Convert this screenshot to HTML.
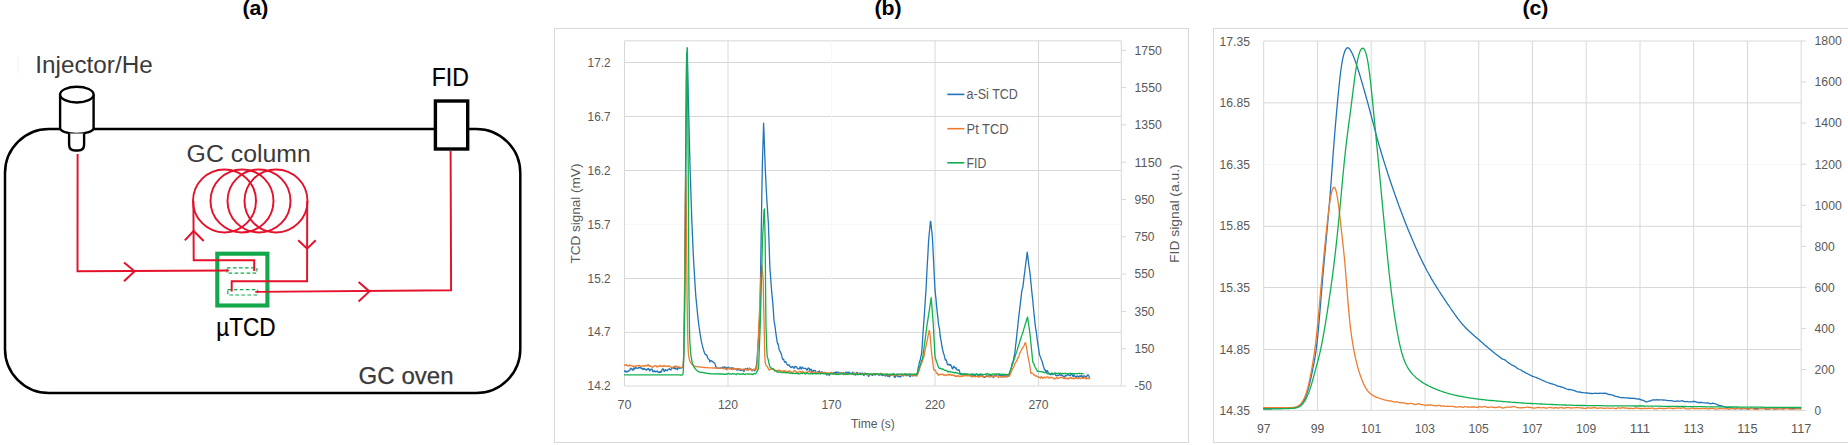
<!DOCTYPE html>
<html lang="en">
<head>
<meta charset="utf-8">
<title>GC setup and chromatograms</title>
<style>
html,body{margin:0;padding:0;background:#fff;overflow:hidden}
svg{display:block;font-family:'Liberation Sans', sans-serif}
</style>
</head>
<body>
<svg width="1848" height="445" viewBox="0 0 1848 445">
<rect x="0" y="0" width="1848" height="445" fill="#fff"/>
<text x="255.40" y="14.65" font-size="19.8" fill="#000" text-anchor="middle" textLength="26.00" lengthAdjust="spacingAndGlyphs" font-weight="bold">(a)</text>
<text x="888.10" y="14.65" font-size="19.8" fill="#000" text-anchor="middle" textLength="27.20" lengthAdjust="spacingAndGlyphs" font-weight="bold">(b)</text>
<text x="1535.40" y="14.65" font-size="19.8" fill="#000" text-anchor="middle" textLength="26.00" lengthAdjust="spacingAndGlyphs" font-weight="bold">(c)</text>
<g id="panel-a">
<rect x="5" y="129" width="515.3" height="264" rx="44" ry="44" fill="none" stroke="#000" stroke-width="2.5"/>
<path d="M60.1 94.6 L60.1 128 A16.75 6 0 0 0 93.6 128 L93.6 94.6 Z" fill="#fff" stroke="none"/>
<path d="M60.1 94.6 L60.1 128 A16.75 6 0 0 0 93.6 128 L93.6 94.6" fill="none" stroke="#000" stroke-width="2.4"/>
<ellipse cx="76.85" cy="94.6" rx="16.75" ry="7.9" fill="#fff" stroke="#000" stroke-width="2.4"/>
<path d="M69.1 133.5 L69.1 144.5 Q69.1 150.5 75.1 150.5 L78.1 150.5 Q84.1 150.5 84.1 144.5 L84.1 133.5" fill="#fff" stroke="#000" stroke-width="2.4"/>
<rect x="435.4" y="101" width="32.3" height="48" fill="#fff" stroke="#000" stroke-width="3.4"/>
<rect x="217.3" y="253.7" width="50.1" height="51.8" fill="none" stroke="#12a84b" stroke-width="4.1"/>
<rect x="227" y="267.8" width="29.9" height="5.4" fill="none" stroke="#12a84b" stroke-width="1.2" stroke-dasharray="3.6 2.4"/>
<rect x="227.8" y="289.6" width="29.9" height="5.4" fill="none" stroke="#12a84b" stroke-width="1.2" stroke-dasharray="3.6 2.4"/>
<path d="M77.6 154 L77.5 271.3 L228.8 270.5" fill="none" stroke="#e5102a" stroke-width="1.95" stroke-linejoin="miter"/>
<path d="M124 262.4 L134.6 271.3 L124 281.3" fill="none" stroke="#e5102a" stroke-width="1.95" stroke-linejoin="miter"/>
<path d="M450.6 151 L451.1 290.2 L255.3 291.9" fill="none" stroke="#e5102a" stroke-width="1.95" stroke-linejoin="miter"/>
<path d="M358.6 282.1 L369.4 291.4 L358.6 301.5" fill="none" stroke="#e5102a" stroke-width="1.95" stroke-linejoin="miter"/>
<circle cx="224.5" cy="200.9" r="31.5" fill="none" stroke="#e5102a" stroke-width="1.95"/>
<circle cx="242.0" cy="200.9" r="31.5" fill="none" stroke="#e5102a" stroke-width="1.95"/>
<circle cx="259.0" cy="200.9" r="31.5" fill="none" stroke="#e5102a" stroke-width="1.95"/>
<circle cx="276.0" cy="200.9" r="31.5" fill="none" stroke="#e5102a" stroke-width="1.95"/>
<path d="M193.4 201 L193.7 260.2 L254.2 260.2 L254.2 271" fill="none" stroke="#e5102a" stroke-width="1.95" stroke-linejoin="miter"/>
<path d="M184.8 240.4 L193.6 231 L203.7 241" fill="none" stroke="#e5102a" stroke-width="1.95" stroke-linejoin="miter"/>
<path d="M307.2 201 L307.1 281.2 L231.7 281.2 L231.7 291.4" fill="none" stroke="#e5102a" stroke-width="1.95" stroke-linejoin="miter"/>
<path d="M298.2 240.2 L307.1 248.7 L315.7 240.2" fill="none" stroke="#e5102a" stroke-width="1.95" stroke-linejoin="miter"/>
<text x="35.30" y="73.20" font-size="24.5" fill="#3a3a3a" textLength="117.40" lengthAdjust="spacingAndGlyphs">Injector/He</text>
<text x="186.60" y="161.80" font-size="23.5" fill="#3a3a3a" textLength="124.20" lengthAdjust="spacingAndGlyphs">GC column</text>
<text x="358.60" y="383.70" font-size="24.5" fill="#3a3a3a" textLength="95.00" lengthAdjust="spacingAndGlyphs" stroke="#3a3a3a" stroke-width="0.25">GC oven</text>
<text x="431.80" y="86.10" font-size="24.9" fill="#000" textLength="37.10" lengthAdjust="spacingAndGlyphs" stroke="#000" stroke-width="0.2">FID</text>
<text x="216.20" y="336.40" font-size="25.2" fill="#000" textLength="59.50" lengthAdjust="spacingAndGlyphs" stroke="#000" stroke-width="0.2">µTCD</text>
<rect x="17.5" y="57" width="1" height="16" fill="#f0f0f0"/>
</g>
<g id="panel-b">
<rect x="554.5" y="28.5" width="634" height="414" fill="#fff" stroke="#d8d8d8" stroke-width="1"/>
<line x1="624.5" y1="386.0" x2="1121.3" y2="386.0" stroke="#d8d8d8" stroke-width="1.0"/>
<line x1="624.5" y1="332.4" x2="1121.3" y2="332.4" stroke="#d8d8d8" stroke-width="1.0"/>
<line x1="624.5" y1="278.5" x2="1121.3" y2="278.5" stroke="#d8d8d8" stroke-width="1.0"/>
<line x1="624.5" y1="224.5" x2="1121.3" y2="224.5" stroke="#f8f8f8" stroke-width="1.0"/>
<line x1="624.5" y1="170.5" x2="1121.3" y2="170.5" stroke="#d8d8d8" stroke-width="1.0"/>
<line x1="624.5" y1="116.5" x2="1121.3" y2="116.5" stroke="#d8d8d8" stroke-width="1.0"/>
<line x1="624.5" y1="62.5" x2="1121.3" y2="62.5" stroke="#d8d8d8" stroke-width="1.0"/>
<line x1="624.5" y1="40.8" x2="1121.3" y2="40.8" stroke="#d8d8d8" stroke-width="1.0"/>
<line x1="624.5" y1="40.8" x2="624.5" y2="386.0" stroke="#d8d8d8" stroke-width="1.0"/>
<line x1="728.0" y1="40.8" x2="728.0" y2="386.0" stroke="#d8d8d8" stroke-width="1.0"/>
<line x1="831.5" y1="40.8" x2="831.5" y2="386.0" stroke="#f8f8f8" stroke-width="1.0"/>
<line x1="935.0" y1="40.8" x2="935.0" y2="386.0" stroke="#d8d8d8" stroke-width="1.0"/>
<line x1="1038.5" y1="40.8" x2="1038.5" y2="386.0" stroke="#d8d8d8" stroke-width="1.0"/>
<line x1="1121.3" y1="40.8" x2="1121.3" y2="386.0" stroke="#d8d8d8" stroke-width="1.0"/>
<line x1="1121.3" y1="386.0" x2="1126.3" y2="386.0" stroke="#d8d8d8" stroke-width="1.0"/>
<text x="1134.50" y="390.30" font-size="12" fill="#595959" textLength="17.30" lengthAdjust="spacingAndGlyphs">-50</text>
<line x1="1121.3" y1="348.7" x2="1126.3" y2="348.7" stroke="#d8d8d8" stroke-width="1.0"/>
<text x="1134.50" y="353.00" font-size="12" fill="#595959" textLength="20.00" lengthAdjust="spacingAndGlyphs">150</text>
<line x1="1121.3" y1="311.4" x2="1126.3" y2="311.4" stroke="#d8d8d8" stroke-width="1.0"/>
<text x="1134.50" y="315.70" font-size="12" fill="#595959" textLength="20.00" lengthAdjust="spacingAndGlyphs">350</text>
<line x1="1121.3" y1="274.1" x2="1126.3" y2="274.1" stroke="#d8d8d8" stroke-width="1.0"/>
<text x="1134.50" y="278.40" font-size="12" fill="#595959" textLength="20.00" lengthAdjust="spacingAndGlyphs">550</text>
<line x1="1121.3" y1="236.8" x2="1126.3" y2="236.8" stroke="#d8d8d8" stroke-width="1.0"/>
<text x="1134.50" y="241.10" font-size="12" fill="#595959" textLength="20.00" lengthAdjust="spacingAndGlyphs">750</text>
<line x1="1121.3" y1="199.5" x2="1126.3" y2="199.5" stroke="#d8d8d8" stroke-width="1.0"/>
<text x="1134.50" y="203.80" font-size="12" fill="#595959" textLength="20.00" lengthAdjust="spacingAndGlyphs">950</text>
<line x1="1121.3" y1="162.2" x2="1126.3" y2="162.2" stroke="#d8d8d8" stroke-width="1.0"/>
<text x="1134.50" y="166.50" font-size="12" fill="#595959" textLength="27.30" lengthAdjust="spacingAndGlyphs">1150</text>
<line x1="1121.3" y1="124.9" x2="1126.3" y2="124.9" stroke="#d8d8d8" stroke-width="1.0"/>
<text x="1134.50" y="129.20" font-size="12" fill="#595959" textLength="27.30" lengthAdjust="spacingAndGlyphs">1350</text>
<line x1="1121.3" y1="87.6" x2="1126.3" y2="87.6" stroke="#d8d8d8" stroke-width="1.0"/>
<text x="1134.50" y="91.90" font-size="12" fill="#595959" textLength="27.30" lengthAdjust="spacingAndGlyphs">1550</text>
<line x1="1121.3" y1="50.3" x2="1126.3" y2="50.3" stroke="#d8d8d8" stroke-width="1.0"/>
<text x="1134.50" y="54.60" font-size="12" fill="#595959" textLength="27.30" lengthAdjust="spacingAndGlyphs">1750</text>
<text x="587.60" y="390.30" font-size="12" fill="#595959" textLength="23.00" lengthAdjust="spacingAndGlyphs">14.2</text>
<text x="587.60" y="336.40" font-size="12" fill="#595959" textLength="23.00" lengthAdjust="spacingAndGlyphs">14.7</text>
<text x="587.60" y="282.50" font-size="12" fill="#595959" textLength="23.00" lengthAdjust="spacingAndGlyphs">15.2</text>
<text x="587.60" y="228.60" font-size="12" fill="#595959" textLength="23.00" lengthAdjust="spacingAndGlyphs">15.7</text>
<text x="587.60" y="174.70" font-size="12" fill="#595959" textLength="23.00" lengthAdjust="spacingAndGlyphs">16.2</text>
<text x="587.60" y="120.80" font-size="12" fill="#595959" textLength="23.00" lengthAdjust="spacingAndGlyphs">16.7</text>
<text x="587.60" y="66.90" font-size="12" fill="#595959" textLength="23.00" lengthAdjust="spacingAndGlyphs">17.2</text>
<text x="624.50" y="408.80" font-size="12" fill="#595959" text-anchor="middle" textLength="14.00" lengthAdjust="spacingAndGlyphs">70</text>
<text x="728.00" y="408.80" font-size="12" fill="#595959" text-anchor="middle" textLength="20.20" lengthAdjust="spacingAndGlyphs">120</text>
<text x="831.50" y="408.80" font-size="12" fill="#595959" text-anchor="middle" textLength="20.20" lengthAdjust="spacingAndGlyphs">170</text>
<text x="935.00" y="408.80" font-size="12" fill="#595959" text-anchor="middle" textLength="20.20" lengthAdjust="spacingAndGlyphs">220</text>
<text x="1038.50" y="408.80" font-size="12" fill="#595959" text-anchor="middle" textLength="20.20" lengthAdjust="spacingAndGlyphs">270</text>
<text x="873.00" y="428.20" font-size="12" fill="#595959" text-anchor="middle" textLength="43.80" lengthAdjust="spacingAndGlyphs">Time (s)</text>
<text transform="translate(579.6 213.6) rotate(-90)" font-size="13" fill="#595959" text-anchor="middle" textLength="100" lengthAdjust="spacingAndGlyphs">TCD signal (mV)</text>
<text transform="translate(1179.4 213.6) rotate(-90)" font-size="13" fill="#595959" text-anchor="middle" textLength="98.7" lengthAdjust="spacingAndGlyphs">FID signal (a.u.)</text>
<line x1="947.3" y1="94.4" x2="964.4" y2="94.4" stroke="#2174ba" stroke-width="1.6"/>
<text x="966.60" y="99.30" font-size="14" fill="#595959" textLength="51.30" lengthAdjust="spacingAndGlyphs">a-Si TCD</text>
<line x1="947.3" y1="128.7" x2="964.4" y2="128.7" stroke="#ed7d31" stroke-width="1.6"/>
<text x="966.60" y="133.60" font-size="14" fill="#595959" textLength="41.90" lengthAdjust="spacingAndGlyphs">Pt TCD</text>
<line x1="947.3" y1="162.8" x2="964.4" y2="162.8" stroke="#10b050" stroke-width="1.6"/>
<text x="966.60" y="167.70" font-size="14" fill="#595959" textLength="19.80" lengthAdjust="spacingAndGlyphs">FID</text>
<polyline points="624.5,371.2 624.9,370.7 625.3,371.1 625.7,372.0 626.1,372.2 626.5,371.7 626.9,371.2 627.3,371.6 627.7,371.9 628.1,371.0 628.5,370.8 628.9,371.0 629.3,370.7 629.7,370.4 630.1,369.0 630.5,368.9 630.9,368.1 631.3,368.9 631.7,368.8 632.1,369.8 632.5,369.9 632.9,370.3 633.3,368.6 633.7,368.1 634.1,368.0 634.5,369.2 634.9,368.5 635.3,368.1 635.7,367.4 636.1,367.6 636.5,368.3 636.9,368.2 637.3,368.4 637.7,368.2 638.1,368.1 638.5,367.9 638.9,367.3 639.3,367.7 639.7,367.2 640.1,367.3 640.5,368.0 640.9,367.9 641.3,368.4 641.7,367.9 642.1,368.4 642.5,369.1 642.9,369.5 643.3,369.3 643.7,368.4 644.1,368.4 644.5,369.0 644.9,369.4 645.3,369.2 645.7,369.7 646.1,370.2 646.5,369.9 646.9,369.8 647.3,368.9 647.7,369.4 648.1,368.7 648.5,368.8 648.9,368.7 649.3,369.9 649.7,370.9 650.1,370.4 650.5,369.6 650.9,369.5 651.3,369.2 651.7,369.5 652.1,369.2 652.5,371.0 652.9,371.7 653.3,371.7 653.7,371.0 654.1,370.6 654.5,371.6 654.9,371.7 655.3,371.8 655.7,371.3 656.1,371.6 656.5,371.7 656.9,371.0 657.3,371.2 657.7,371.2 658.1,372.3 658.5,372.5 658.9,372.7 659.3,372.3 659.7,371.7 660.1,372.2 660.5,371.8 660.9,372.2 661.3,370.9 661.7,371.0 662.1,369.7 662.5,369.2 662.9,368.8 663.3,369.1 663.7,370.2 664.1,371.4 664.5,371.4 664.9,370.9 665.3,369.7 665.7,370.3 666.1,370.5 666.5,370.2 666.9,370.2 667.3,370.5 667.7,370.0 668.1,369.5 668.5,369.2 668.9,369.1 669.3,369.2 669.7,368.7 670.1,369.7 670.5,369.6 670.9,370.0 671.3,369.1 671.7,368.9 672.1,367.7 672.5,367.4 672.9,367.6 673.3,367.4 673.7,368.4 674.1,367.2 674.5,368.7 674.9,367.7 675.3,369.0 675.7,368.6 676.1,368.2 676.5,368.3 676.9,369.0 677.3,369.7 677.7,368.9 678.1,368.0 678.5,367.5 678.9,368.2 679.3,368.0 679.7,368.4 680.1,367.4 680.4,368.0 680.5,368.0 680.7,368.0 680.9,368.0 681.0,367.9 681.2,367.9 681.3,367.9 681.5,367.9 681.6,367.8 681.8,367.8 681.9,367.8 682.1,367.7 682.2,367.7 682.4,367.6 682.5,367.5 682.7,367.4 682.9,367.3 683.0,366.8 683.2,365.7 683.3,364.0 683.5,361.4 683.6,357.6 683.8,352.6 683.9,346.0 684.1,338.0 684.2,329.4 684.4,319.4 684.5,305.0 684.7,285.4 684.9,264.0 685.0,243.6 685.2,224.6 685.3,205.7 685.5,185.6 685.6,162.6 685.8,138.8 685.9,117.4 686.1,98.0 686.2,80.5 686.4,67.0 686.6,58.4 686.7,53.8 686.9,52.3 687.0,53.5 687.2,56.4 687.3,60.4 687.5,65.2 687.6,70.4 687.8,76.0 687.9,81.8 688.1,87.9 688.2,94.1 688.4,100.4 688.6,106.8 688.7,113.4 688.9,120.1 689.0,126.8 689.2,133.3 689.3,139.5 689.5,145.4 689.6,151.0 689.8,156.6 689.9,162.0 690.1,167.3 690.2,172.6 690.4,177.7 690.6,182.7 690.7,187.6 690.9,192.4 691.0,197.0 691.2,201.6 691.3,206.1 691.5,210.4 691.6,214.7 691.8,218.9 691.9,223.0 692.1,227.0 692.3,230.9 692.4,234.7 692.6,238.3 692.7,241.9 692.9,245.3 693.0,248.6 693.2,251.7 693.3,254.8 693.5,257.7 693.6,260.6 693.8,263.4 693.9,266.1 694.1,268.8 694.3,271.4 694.4,274.0 694.6,276.6 694.7,279.2 694.9,281.8 695.0,284.3 695.2,286.7 695.3,289.1 695.5,291.3 695.6,293.5 695.8,295.5 695.9,297.4 696.1,299.1 696.3,300.8 696.4,302.4 696.6,303.9 696.7,305.5 696.9,307.0 697.0,308.5 697.2,310.0 697.3,311.6 697.5,313.1 697.6,314.6 697.8,316.1 698.0,317.5 698.1,318.9 698.3,320.3 698.4,321.6 698.6,322.9 698.7,324.1 698.9,325.3 699.0,326.4 699.2,327.6 699.3,328.7 699.5,329.8 699.6,330.8 699.8,331.9 700.0,332.9 700.1,333.9 700.3,334.9 700.4,335.8 700.6,336.7 700.7,337.6 700.9,338.5 701.0,339.3 701.2,340.1 701.3,340.9 701.5,341.7 701.6,342.4 701.8,343.1 702.0,343.8 702.1,344.4 702.3,345.1 702.4,345.7 702.6,346.3 702.7,346.9 702.9,347.5 703.0,348.1 703.2,348.7 703.3,349.3 703.5,349.8 703.7,350.3 703.8,350.9 704.0,351.4 704.1,351.8 704.3,352.2 704.4,352.6 704.6,353.0 704.7,353.4 704.9,353.8 705.0,354.1 705.2,354.4 705.3,354.5 705.5,354.6 705.7,354.7 705.8,354.7 706.0,354.7 706.1,354.7 706.3,354.7 706.4,354.8 706.6,354.9 706.7,355.1 706.9,355.5 707.0,355.9 707.2,356.3 707.3,356.8 707.5,357.3 707.7,357.7 707.8,358.1 708.0,358.4 708.1,358.6 708.3,358.8 708.4,358.9 708.6,359.0 708.7,359.1 708.9,359.2 709.0,359.4 709.2,359.6 709.4,359.9 709.5,360.5 709.7,361.3 709.8,361.9 710.0,361.9 710.1,361.3 710.3,360.7 710.4,360.5 710.6,360.5 710.7,360.5 710.9,360.6 711.0,360.6 711.2,360.7 711.4,360.8 711.5,360.9 711.7,361.0 711.8,361.1 712.0,361.2 712.1,361.3 712.3,361.4 712.4,361.5 712.6,361.6 712.7,361.8 712.9,361.9 713.0,362.0 713.2,362.1 713.4,362.2 713.5,362.3 713.7,362.5 713.8,362.6 714.0,362.7 714.1,362.8 714.3,362.9 714.4,363.0 714.6,363.2 714.7,363.4 714.9,363.6 715.1,363.9 715.2,364.4 715.4,364.9 715.5,365.5 715.7,366.0 715.8,366.4 716.0,366.8 716.1,367.1 716.3,367.4 716.4,367.7 716.6,367.9 716.7,368.1 716.9,368.1 717.1,368.2 717.2,368.2 717.4,368.2 717.5,368.2 717.7,368.2 717.8,368.2 718.0,368.2 718.1,368.2 718.3,368.2 718.4,368.2 718.6,368.1 718.7,368.1 718.9,368.1 719.1,368.1 719.2,368.1 719.4,368.1 719.5,368.1 719.7,368.1 719.8,368.1 720.0,368.1 720.1,368.0 720.3,368.0 720.4,368.0 720.6,368.0 720.8,368.0 720.9,367.9 721.1,367.9 721.2,367.9 721.4,367.8 721.5,367.8 721.7,367.8 722.0,367.8 722.4,367.3 722.8,367.0 723.2,367.4 723.6,367.4 724.0,367.6 724.4,367.0 724.8,366.8 725.2,367.8 725.6,368.1 726.0,368.1 726.4,367.5 726.8,368.5 727.2,368.4 727.6,368.1 728.0,367.2 728.4,367.1 728.8,367.6 729.2,367.9 729.6,368.8 730.0,368.2 730.4,368.4 730.8,368.2 731.2,368.5 731.6,367.8 732.0,367.6 732.4,368.3 732.8,368.6 733.2,369.3 733.6,368.7 734.0,368.8 734.4,368.5 734.8,368.8 735.2,368.9 735.6,369.1 736.0,368.9 736.4,369.6 736.8,370.0 737.2,370.2 737.6,369.4 738.0,368.5 738.4,368.8 738.8,369.5 739.2,370.1 739.6,369.9 740.0,369.9 740.4,370.4 740.8,370.6 741.2,370.0 741.6,370.4 742.0,369.4 742.4,370.0 742.8,369.6 743.2,370.6 743.6,371.1 744.0,371.6 744.4,370.7 744.8,369.0 745.2,368.7 745.6,368.8 746.0,369.6 746.4,369.7 746.8,369.4 747.2,368.5 747.6,368.2 748.0,369.0 748.4,369.9 748.8,369.8 749.2,369.5 749.6,368.9 750.0,368.8 750.4,368.9 750.8,368.9 751.2,369.3 751.6,369.8 752.0,370.8 752.4,370.2 752.8,370.0 753.2,369.4 753.6,369.5 754.0,370.0 754.4,370.2 754.8,370.9 755.2,370.1 755.6,369.6 756.0,367.0 756.4,365.5 756.8,362.7 757.2,357.8 757.6,351.2 758.0,345.4 758.4,340.2 758.8,334.1 759.2,326.3 759.6,317.9 760.0,310.4 760.4,285.8 760.8,260.3 761.2,234.8 761.6,209.5 762.0,184.6 762.4,162.8 762.8,150.2 763.2,137.5 763.6,123.1 764.0,132.9 764.4,144.2 764.8,155.6 765.2,166.9 765.6,175.4 766.0,183.7 766.4,192.0 766.8,198.8 767.2,205.5 767.6,211.1 768.0,217.7 768.4,223.8 768.8,235.6 769.2,247.1 769.6,259.6 770.0,269.5 770.4,274.3 770.8,279.9 771.2,285.4 771.6,290.5 772.0,294.9 772.4,299.2 772.8,302.9 773.2,308.2 773.6,314.2 774.0,320.8 774.4,322.7 774.8,325.2 775.2,327.7 775.6,331.3 776.0,334.2 776.4,336.9 776.8,339.6 777.2,341.8 777.6,343.9 778.0,343.5 778.4,345.6 778.8,347.4 779.2,349.8 779.6,350.5 780.0,351.3 780.4,352.1 780.8,352.9 781.2,353.9 781.6,355.0 782.0,356.9 782.4,358.4 782.8,359.5 783.2,359.1 783.6,359.1 784.0,360.4 784.4,361.4 784.8,362.3 785.2,361.9 785.6,361.7 786.0,362.2 786.4,363.3 786.8,364.1 787.2,364.6 787.6,364.6 788.0,365.4 788.4,365.1 788.8,365.2 789.2,364.9 789.6,366.2 790.0,366.1 790.4,366.9 790.8,367.3 791.2,367.6 791.6,367.2 792.0,366.7 792.4,366.9 792.8,366.7 793.2,366.9 793.6,367.9 794.0,368.3 794.4,368.0 794.8,366.6 795.2,366.9 795.6,366.5 796.0,366.5 796.4,367.0 796.8,367.2 797.2,368.2 797.6,368.4 798.0,369.0 798.4,368.8 798.8,369.0 799.2,368.8 799.6,368.4 800.0,366.9 800.4,367.0 800.8,368.0 801.2,369.1 801.6,368.7 802.0,367.7 802.4,367.1 802.8,367.7 803.2,368.0 803.6,368.4 804.0,368.4 804.4,368.4 804.8,368.4 805.2,368.4 805.6,368.5 806.0,368.8 806.4,369.7 806.8,370.2 807.2,370.1 807.6,368.6 808.0,368.7 808.4,367.9 808.8,368.2 809.2,368.5 809.6,369.9 810.0,370.6 810.4,369.6 810.8,369.2 811.2,369.1 811.6,370.4 812.0,371.7 812.4,372.3 812.8,371.8 813.2,370.3 813.6,370.3 814.0,370.7 814.4,370.7 814.8,370.9 815.2,370.5 815.6,371.7 816.0,372.2 816.4,373.3 816.8,372.6 817.2,372.4 817.6,372.0 818.0,372.1 818.4,371.7 818.8,371.3 819.2,370.9 819.6,371.5 820.0,372.1 820.4,372.9 820.8,373.1 821.2,372.4 821.6,372.0 822.0,371.7 822.4,372.8 822.8,373.1 823.2,373.5 823.6,373.5 824.0,373.2 824.4,372.4 824.8,372.7 825.2,373.6 825.6,373.2 826.0,373.5 826.4,373.7 826.8,375.2 827.2,374.5 827.6,374.2 828.0,373.0 828.4,374.4 828.8,374.4 829.2,375.6 829.6,374.1 830.0,374.2 830.4,372.7 830.8,372.8 831.2,373.1 831.6,373.3 832.0,373.9 832.4,373.6 832.8,373.6 833.2,372.9 833.6,372.5 834.0,372.9 834.4,372.9 834.8,372.7 835.2,372.5 835.6,372.2 836.0,372.0 836.4,372.1 836.8,372.9 837.2,372.8 837.6,372.8 838.0,372.0 838.4,372.3 838.8,372.7 839.2,372.7 839.6,373.9 840.0,373.2 840.4,373.6 840.8,372.9 841.2,372.9 841.6,373.0 842.0,373.1 842.4,373.7 842.8,373.5 843.2,373.1 843.6,372.8 844.0,372.8 844.4,373.8 844.8,373.4 845.2,373.4 845.6,372.2 846.0,373.0 846.4,372.5 846.8,372.5 847.2,372.2 847.6,373.2 848.0,373.4 848.4,372.9 848.8,372.1 849.2,372.3 849.6,373.0 850.0,373.0 850.4,373.2 850.8,373.3 851.2,373.4 851.6,374.0 852.0,373.3 852.4,373.1 852.8,372.1 853.2,373.4 853.6,373.8 854.0,374.8 854.4,374.0 854.8,374.2 855.2,374.1 855.6,375.1 856.0,374.5 856.4,373.8 856.8,372.5 857.2,372.4 857.6,373.5 858.0,374.3 858.4,374.5 858.8,373.6 859.2,373.1 859.6,374.2 860.0,373.5 860.4,374.0 860.8,372.9 861.2,374.7 861.6,374.0 862.0,374.3 862.4,373.2 862.8,373.3 863.2,374.1 863.6,375.2 864.0,375.5 864.4,374.4 864.8,373.2 865.2,373.2 865.6,373.6 866.0,374.5 866.4,374.7 866.8,374.2 867.2,374.2 867.6,374.3 868.0,375.4 868.4,376.3 868.8,376.3 869.2,375.4 869.6,374.5 870.0,374.3 870.4,374.4 870.8,374.4 871.2,374.2 871.6,374.8 872.0,374.8 872.4,375.4 872.8,375.1 873.2,374.8 873.6,374.3 874.0,374.2 874.4,374.3 874.8,374.9 875.2,375.0 875.6,374.7 876.0,374.6 876.4,374.0 876.8,374.4 877.2,374.2 877.6,373.9 878.0,374.2 878.4,374.4 878.8,375.3 879.2,375.1 879.6,374.9 880.0,374.5 880.4,374.6 880.8,374.5 881.2,375.0 881.6,374.6 882.0,375.0 882.4,375.0 882.8,375.5 883.2,375.2 883.6,375.4 884.0,374.8 884.4,375.2 884.8,375.0 885.2,376.0 885.6,375.9 886.0,375.5 886.4,375.3 886.8,375.4 887.2,375.9 887.6,376.2 888.0,375.2 888.4,375.3 888.8,375.7 889.2,376.9 889.6,376.8 890.0,375.5 890.4,375.5 890.8,375.3 891.2,374.9 891.6,374.7 892.0,374.0 892.4,374.6 892.8,374.2 893.2,375.5 893.6,375.9 894.0,376.3 894.4,376.6 894.8,377.5 895.2,377.3 895.6,376.4 896.0,375.1 896.4,374.9 896.8,375.2 897.2,376.0 897.6,376.4 898.0,376.6 898.4,376.1 898.8,376.0 899.2,375.9 899.6,376.6 900.0,377.1 900.4,376.9 900.8,376.5 901.2,376.1 901.6,375.4 902.0,374.7 902.4,374.8 902.8,375.2 903.2,376.1 903.6,375.0 904.0,374.8 904.4,374.3 904.8,374.7 905.2,373.8 905.6,373.8 906.0,374.6 906.4,375.8 906.8,375.6 907.2,375.2 907.6,375.3 908.0,374.3 908.4,374.2 908.8,374.0 909.2,375.6 909.6,376.4 910.0,376.6 910.4,376.4 910.8,375.7 911.2,375.5 911.6,375.1 912.0,374.9 912.4,374.9 912.8,376.0 913.2,375.9 913.6,375.4 914.0,374.6 914.4,375.2 914.8,375.2 915.2,375.8 915.6,374.7 916.0,374.5 916.4,373.7 916.8,374.5 917.2,374.1 917.6,371.7 918.0,369.0 918.4,366.9 918.8,365.4 919.2,363.3 919.6,361.7 920.0,360.4 920.4,359.5 920.8,356.9 921.2,355.3 921.6,353.1 922.0,348.4 922.4,342.0 922.8,336.2 923.2,330.3 923.6,324.9 924.0,320.1 924.4,314.1 924.8,308.0 925.2,301.7 925.6,295.4 926.0,290.3 926.4,282.0 926.8,273.9 927.2,266.1 927.6,259.4 928.0,252.5 928.4,244.0 928.8,238.2 929.2,234.1 929.6,230.2 930.0,225.8 930.4,221.3 930.8,221.7 931.2,226.1 931.6,229.5 932.0,232.9 932.4,237.8 932.8,245.3 933.2,253.9 933.6,261.7 934.0,270.3 934.4,278.2 934.8,286.4 935.2,291.6 935.6,295.6 936.0,298.9 936.4,303.8 936.8,307.9 937.2,312.0 937.6,315.3 938.0,319.1 938.4,323.8 938.8,325.6 939.2,327.6 939.6,329.5 940.0,333.8 940.4,337.1 940.8,339.7 941.2,341.2 941.6,344.1 942.0,346.5 942.4,348.4 942.8,350.4 943.2,352.2 943.6,353.9 944.0,354.3 944.4,356.2 944.8,357.8 945.2,359.5 945.6,360.2 946.0,359.6 946.4,360.9 946.8,361.7 947.2,364.0 947.6,364.7 948.0,364.9 948.4,364.2 948.8,364.3 949.2,364.3 949.6,365.2 950.0,365.0 950.4,365.4 950.8,364.7 951.2,365.8 951.6,366.3 952.0,368.1 952.4,368.7 952.8,368.8 953.2,367.7 953.6,366.6 954.0,366.3 954.4,367.1 954.8,367.8 955.2,367.7 955.6,368.3 956.0,367.8 956.4,369.1 956.8,369.2 957.2,370.0 957.6,370.0 958.0,370.1 958.4,370.2 958.8,369.7 959.2,370.2 959.6,371.7 960.0,373.7 960.4,374.6 960.8,374.4 961.2,373.5 961.6,373.8 962.0,373.8 962.4,374.4 962.8,373.9 963.2,374.2 963.6,374.1 964.0,374.2 964.4,373.7 964.8,373.8 965.2,374.9 965.6,375.4 966.0,375.5 966.4,374.7 966.8,375.1 967.2,374.8 967.6,374.5 968.0,374.6 968.4,375.3 968.8,375.5 969.2,375.8 969.6,375.4 970.0,375.4 970.4,374.5 970.8,375.6 971.2,374.7 971.6,374.6 972.0,373.7 972.4,375.0 972.8,375.6 973.2,376.5 973.6,375.6 974.0,375.7 974.4,374.9 974.8,375.4 975.2,375.3 975.6,375.1 976.0,374.5 976.4,374.1 976.8,373.9 977.2,374.6 977.6,374.9 978.0,375.8 978.4,376.9 978.8,376.7 979.2,375.8 979.6,374.8 980.0,374.5 980.4,374.7 980.8,375.3 981.2,375.5 981.6,375.1 982.0,375.3 982.4,375.6 982.8,376.7 983.2,376.5 983.6,376.9 984.0,376.8 984.4,377.3 984.8,377.3 985.2,377.4 985.6,377.0 986.0,376.2 986.4,375.9 986.8,375.5 987.2,376.3 987.6,375.7 988.0,376.6 988.4,376.5 988.8,376.6 989.2,375.0 989.6,374.8 990.0,375.3 990.4,375.8 990.8,375.9 991.2,375.6 991.6,376.2 992.0,375.8 992.4,376.1 992.8,376.2 993.2,377.7 993.6,377.3 994.0,376.6 994.4,375.0 994.8,375.8 995.2,375.5 995.6,375.6 996.0,375.2 996.4,375.3 996.8,375.1 997.2,374.8 997.6,374.3 998.0,374.1 998.4,374.1 998.8,375.1 999.2,375.6 999.6,375.0 1000.0,374.7 1000.4,375.1 1000.8,376.2 1001.2,376.4 1001.6,375.6 1002.0,375.6 1002.4,375.3 1002.8,375.2 1003.2,374.5 1003.6,375.4 1004.0,376.0 1004.4,376.9 1004.8,376.0 1005.2,376.3 1005.6,375.5 1006.0,375.6 1006.4,376.3 1006.8,376.9 1007.2,376.8 1007.6,375.6 1008.0,375.3 1008.4,376.1 1008.8,375.9 1009.2,374.9 1009.6,372.6 1010.0,371.3 1010.4,370.5 1010.8,369.6 1011.2,368.2 1011.6,366.9 1012.0,364.2 1012.4,362.8 1012.8,361.8 1013.2,361.1 1013.6,359.2 1014.0,356.7 1014.4,355.5 1014.8,353.4 1015.2,349.7 1015.6,345.5 1016.0,342.6 1016.4,338.9 1016.8,335.2 1017.2,331.2 1017.6,327.8 1018.0,324.0 1018.4,320.0 1018.8,316.4 1019.2,313.3 1019.6,309.9 1020.0,306.5 1020.4,303.1 1020.8,299.7 1021.2,296.6 1021.6,292.4 1022.0,290.1 1022.4,288.6 1022.8,287.5 1023.2,284.4 1023.6,281.1 1024.0,277.4 1024.4,274.4 1024.8,271.6 1025.2,267.7 1025.6,265.0 1026.0,261.1 1026.4,259.2 1026.8,255.6 1027.2,252.1 1027.6,254.8 1028.0,258.2 1028.4,261.7 1028.8,265.0 1029.2,267.6 1029.6,269.8 1030.0,273.1 1030.4,276.9 1030.8,281.6 1031.2,285.3 1031.6,289.6 1032.0,293.4 1032.4,297.1 1032.8,300.6 1033.2,305.5 1033.6,309.2 1034.0,313.9 1034.4,317.2 1034.8,321.4 1035.2,324.8 1035.6,327.8 1036.0,330.5 1036.4,332.5 1036.8,335.7 1037.2,339.6 1037.6,342.3 1038.0,344.8 1038.4,347.3 1038.8,349.9 1039.2,352.7 1039.6,355.1 1040.0,356.1 1040.4,356.8 1040.8,357.9 1041.2,359.2 1041.6,360.2 1042.0,361.0 1042.4,362.6 1042.8,364.0 1043.2,365.6 1043.6,366.7 1044.0,367.9 1044.4,369.6 1044.8,369.7 1045.2,370.8 1045.6,370.0 1046.0,371.5 1046.4,372.3 1046.8,371.8 1047.2,370.8 1047.6,370.7 1048.0,372.3 1048.4,373.4 1048.8,373.4 1049.2,373.5 1049.6,373.8 1050.0,374.1 1050.4,374.7 1050.8,373.7 1051.2,374.1 1051.6,373.1 1052.0,374.7 1052.4,374.3 1052.8,374.4 1053.2,374.2 1053.6,373.9 1054.0,373.9 1054.4,373.1 1054.8,373.5 1055.2,374.2 1055.6,375.4 1056.0,375.4 1056.4,375.7 1056.8,375.3 1057.2,375.3 1057.6,375.1 1058.0,375.6 1058.4,375.6 1058.8,375.2 1059.2,374.7 1059.6,374.9 1060.0,374.7 1060.4,375.2 1060.8,375.1 1061.2,375.7 1061.6,374.9 1062.0,375.3 1062.4,375.3 1062.8,375.5 1063.2,376.3 1063.6,376.3 1064.0,377.4 1064.4,376.9 1064.8,376.5 1065.2,375.5 1065.6,375.3 1066.0,375.7 1066.4,375.9 1066.8,375.6 1067.2,374.8 1067.6,374.7 1068.0,373.9 1068.4,374.9 1068.8,374.7 1069.2,375.4 1069.6,375.2 1070.0,375.7 1070.4,375.4 1070.8,374.7 1071.2,374.1 1071.6,373.8 1072.0,374.2 1072.4,375.4 1072.8,375.9 1073.2,376.7 1073.6,375.3 1074.0,376.0 1074.4,375.5 1074.8,376.2 1075.2,376.3 1075.6,377.3 1076.0,377.4 1076.4,377.2 1076.8,376.0 1077.2,376.2 1077.6,376.0 1078.0,376.9 1078.4,376.6 1078.8,377.5 1079.2,376.2 1079.6,376.1 1080.0,375.8 1080.4,376.5 1080.8,376.3 1081.2,375.8 1081.6,375.3 1082.0,375.8 1082.4,377.1 1082.8,378.2 1083.2,377.7 1083.6,376.2 1084.0,375.5 1084.4,376.5 1084.8,376.5 1085.2,376.4 1085.6,376.3 1086.0,377.1 1086.4,377.3 1086.8,376.4 1087.2,375.3 1087.6,375.2 1088.0,374.7 1088.4,375.7 1088.8,375.8 1089.2,377.1 1089.6,377.6" fill="none" stroke="#2174ba" stroke-width="1.3" stroke-linejoin="round" stroke-linecap="round"/>
<polyline points="624.5,365.2 624.9,364.9 625.3,365.6 625.7,365.0 626.1,365.1 626.5,364.6 626.9,365.3 627.3,365.6 627.7,365.8 628.1,365.8 628.5,366.1 628.9,365.4 629.3,365.5 629.7,364.9 630.1,365.6 630.5,365.7 630.9,365.6 631.3,365.4 631.7,365.6 632.1,365.9 632.5,365.9 632.9,366.3 633.3,366.9 633.7,366.6 634.1,366.1 634.5,366.2 634.9,366.9 635.3,366.8 635.7,366.1 636.1,365.7 636.5,365.6 636.9,365.5 637.3,365.8 637.7,365.8 638.1,365.8 638.5,365.3 638.9,365.4 639.3,365.3 639.7,365.6 640.1,365.9 640.5,366.2 640.9,366.4 641.3,366.3 641.7,366.2 642.1,366.0 642.5,365.8 642.9,366.0 643.3,365.7 643.7,366.2 644.1,366.0 644.5,366.1 644.9,365.6 645.3,365.4 645.7,365.7 646.1,365.6 646.5,366.1 646.9,365.9 647.3,365.4 647.7,364.9 648.1,364.5 648.5,365.2 648.9,365.7 649.3,366.5 649.7,366.1 650.1,365.6 650.5,365.9 650.9,366.4 651.3,366.6 651.7,366.5 652.1,367.1 652.5,367.5 652.9,367.2 653.3,366.6 653.7,366.4 654.1,366.2 654.5,365.8 654.9,365.7 655.3,365.6 655.7,365.9 656.1,365.9 656.5,366.9 656.9,366.7 657.3,366.6 657.7,365.9 658.1,366.3 658.5,366.7 658.9,366.6 659.3,366.2 659.7,365.5 660.1,365.4 660.5,365.8 660.9,366.3 661.3,366.2 661.7,366.0 662.1,366.0 662.5,366.5 662.9,366.4 663.3,366.3 663.7,365.7 664.1,365.5 664.5,366.1 664.9,366.0 665.3,366.2 665.7,365.9 666.1,366.4 666.5,366.3 666.9,366.2 667.3,366.3 667.7,366.5 668.1,366.0 668.5,366.0 668.9,365.8 669.3,366.2 669.7,366.3 670.1,366.8 670.5,367.2 670.9,367.0 671.3,367.1 671.7,367.2 672.1,367.7 672.5,367.8 672.9,367.4 673.3,367.1 673.7,366.9 674.1,366.6 674.5,366.7 674.9,366.3 675.3,366.6 675.7,366.1 676.1,366.0 676.5,366.1 676.9,366.9 677.3,367.4 677.7,367.4 678.1,367.1 678.5,366.6 678.9,366.8 679.3,366.8 679.7,367.2 680.1,367.6 680.4,367.3 680.5,367.3 680.7,367.3 680.9,367.3 681.0,367.3 681.2,367.3 681.3,367.3 681.5,367.3 681.6,367.3 681.8,367.3 681.9,367.3 682.1,367.3 682.2,367.3 682.4,367.3 682.5,367.2 682.7,367.0 682.9,366.6 683.0,366.0 683.2,364.8 683.3,362.9 683.5,360.0 683.6,355.8 683.8,350.1 683.9,342.5 684.1,333.4 684.2,323.1 684.4,310.2 684.5,293.7 684.7,274.5 684.9,255.0 685.0,236.2 685.2,218.4 685.3,202.0 685.5,188.1 685.6,178.5 685.8,174.4 685.9,176.4 686.1,184.9 686.2,198.7 686.4,214.4 686.6,230.4 686.7,249.6 686.9,271.8 687.0,291.2 687.2,305.5 687.3,316.3 687.5,324.7 687.6,331.7 687.8,337.5 687.9,342.5 688.1,346.7 688.2,350.0 688.4,352.5 688.6,354.4 688.7,355.9 688.9,356.9 689.0,357.8 689.2,358.5 689.3,359.1 689.5,359.7 689.6,360.2 689.8,360.7 689.9,361.1 690.1,361.5 690.2,361.8 690.4,362.1 690.6,362.4 690.7,362.7 690.9,362.9 691.0,363.1 691.2,363.3 691.3,363.5 691.5,363.7 691.6,363.9 691.8,364.0 691.9,364.2 692.1,364.3 692.3,364.4 692.4,364.6 692.6,364.7 692.7,364.8 692.9,364.9 693.0,365.0 693.2,365.1 693.3,365.2 693.5,365.4 693.6,365.5 693.8,365.6 693.9,365.7 694.1,365.9 694.3,366.0 694.4,366.1 694.6,366.2 694.7,366.3 694.9,366.4 695.0,366.4 695.2,366.5 695.3,366.5 695.5,366.5 695.6,366.5 695.8,366.6 695.9,366.6 696.1,366.6 696.3,366.6 696.4,366.6 696.6,366.7 696.7,366.7 696.9,366.7 697.0,366.7 697.2,366.7 697.3,366.7 697.5,366.8 697.6,366.8 697.8,366.8 698.0,366.8 698.1,366.8 698.3,366.8 698.4,366.8 698.6,366.9 698.7,366.9 698.9,366.9 699.0,366.9 699.2,366.9 699.3,366.9 699.5,367.0 699.6,367.0 699.8,367.0 700.0,367.0 700.1,367.0 700.3,367.0 700.4,367.1 700.6,367.1 700.7,367.1 700.9,367.1 701.0,367.1 701.2,367.1 701.3,367.2 701.5,367.2 701.6,367.2 701.8,367.2 702.0,367.2 702.1,367.2 702.3,367.3 702.4,367.3 702.6,367.3 702.7,367.3 702.9,367.3 703.0,367.3 703.2,367.3 703.3,367.4 703.5,367.4 703.7,367.4 703.8,367.4 704.0,367.4 704.1,367.4 704.3,367.5 704.4,367.5 704.6,367.5 704.7,367.5 704.9,367.5 705.0,367.5 705.2,367.5 705.3,367.6 705.5,367.6 705.7,367.6 705.8,367.6 706.0,367.6 706.1,367.6 706.3,367.6 706.4,367.6 706.6,367.7 706.7,367.7 706.9,367.7 707.0,367.7 707.2,367.7 707.3,367.7 707.5,367.7 707.7,367.7 707.8,367.7 708.0,367.7 708.1,367.8 708.3,367.8 708.4,367.8 708.6,367.8 708.7,367.8 708.9,367.8 709.0,367.8 709.2,367.8 709.4,367.8 709.5,367.8 709.7,367.8 709.8,367.8 710.0,367.8 710.1,367.9 710.3,367.9 710.4,367.9 710.6,367.9 710.7,367.9 710.9,367.9 711.0,367.9 711.2,367.9 711.4,367.9 711.5,367.9 711.7,367.9 711.8,367.9 712.0,367.9 712.1,367.9 712.3,367.9 712.4,367.9 712.6,368.0 712.7,368.0 712.9,368.0 713.0,368.0 713.2,368.0 713.4,368.0 713.5,368.0 713.7,368.0 713.8,368.0 714.0,368.0 714.1,368.0 714.3,368.0 714.4,368.0 714.6,368.0 714.7,368.0 714.9,368.0 715.1,368.0 715.2,368.0 715.4,368.1 715.5,368.1 715.7,368.1 715.8,368.1 716.0,368.1 716.1,368.1 716.3,368.1 716.4,368.1 716.6,368.1 716.7,368.1 716.9,368.1 717.1,368.1 717.2,368.1 717.4,368.1 717.5,368.1 717.7,368.1 717.8,368.1 718.0,368.1 718.1,368.1 718.3,368.1 718.4,368.1 718.6,368.1 718.7,368.1 718.9,368.1 719.1,368.1 719.2,368.1 719.4,368.1 719.5,368.2 719.7,368.2 719.8,368.2 720.0,368.2 720.1,368.2 720.3,368.2 720.4,368.2 720.6,368.2 720.8,368.2 720.9,368.2 721.1,368.2 721.2,368.2 721.4,368.2 721.5,368.2 721.7,368.2 722.0,368.5 722.4,368.4 722.8,368.2 723.2,368.6 723.6,368.9 724.0,368.5 724.4,368.1 724.8,368.3 725.2,368.7 725.6,369.1 726.0,369.4 726.4,369.6 726.8,369.6 727.2,369.5 727.6,368.7 728.0,368.3 728.4,368.2 728.8,368.6 729.2,368.9 729.6,368.7 730.0,368.6 730.4,368.7 730.8,369.0 731.2,369.4 731.6,369.2 732.0,369.4 732.4,369.4 732.8,368.5 733.2,368.0 733.6,367.8 734.0,368.2 734.4,368.5 734.8,368.9 735.2,369.1 735.6,368.7 736.0,369.0 736.4,369.0 736.8,369.0 737.2,368.5 737.6,368.8 738.0,368.9 738.4,369.1 738.8,368.8 739.2,368.8 739.6,368.6 740.0,369.0 740.4,369.1 740.8,369.2 741.2,368.9 741.6,369.9 742.0,369.6 742.4,370.1 742.8,369.2 743.2,369.4 743.6,369.2 744.0,369.5 744.4,369.9 744.8,369.8 745.2,369.4 745.6,368.9 746.0,369.0 746.4,369.3 746.8,369.9 747.2,369.9 747.6,370.0 748.0,370.1 748.4,370.0 748.8,369.3 749.2,368.5 749.6,368.0 750.0,368.9 750.4,369.0 750.8,369.8 751.2,369.5 751.6,370.3 752.0,370.2 752.4,370.1 752.8,369.5 753.2,369.3 753.6,369.3 754.0,369.3 754.4,369.2 754.8,369.7 755.2,369.3 755.6,369.4 756.0,368.7 756.4,369.3 756.8,369.4 757.2,361.1 757.6,352.7 758.0,343.4 758.4,335.1 758.8,326.1 759.2,318.0 759.6,308.3 760.0,298.3 760.4,288.5 760.8,279.1 761.2,275.1 761.6,270.3 762.0,265.1 762.4,269.4 762.8,274.9 763.2,280.5 763.6,300.9 764.0,320.5 764.4,337.8 764.8,356.4 765.2,362.5 765.6,364.1 766.0,365.1 766.4,365.4 766.8,365.8 767.2,366.7 767.6,367.1 768.0,368.2 768.4,368.8 768.8,369.7 769.2,370.0 769.6,370.0 770.0,369.6 770.4,369.2 770.8,369.2 771.2,369.2 771.6,369.3 772.0,369.0 772.4,369.1 772.8,369.0 773.2,369.0 773.6,368.7 774.0,369.4 774.4,369.9 774.8,371.1 775.2,370.6 775.6,370.4 776.0,370.1 776.4,370.5 776.8,370.7 777.2,371.0 777.6,371.0 778.0,370.8 778.4,370.0 778.8,370.3 779.2,370.7 779.6,370.8 780.0,370.5 780.4,370.6 780.8,371.2 781.2,371.3 781.6,371.4 782.0,371.4 782.4,371.1 782.8,370.8 783.2,370.8 783.6,371.2 784.0,370.7 784.4,370.5 784.8,370.9 785.2,372.0 785.6,371.4 786.0,372.0 786.4,371.2 786.8,372.1 787.2,371.8 787.6,372.4 788.0,372.2 788.4,371.5 788.8,371.4 789.2,371.2 789.6,370.8 790.0,371.5 790.4,371.9 790.8,373.2 791.2,372.1 791.6,372.3 792.0,372.3 792.4,373.0 792.8,372.6 793.2,371.8 793.6,371.3 794.0,370.7 794.4,370.6 794.8,370.7 795.2,371.0 795.6,371.5 796.0,371.5 796.4,372.3 796.8,372.8 797.2,372.8 797.6,372.6 798.0,372.0 798.4,372.0 798.8,371.9 799.2,371.8 799.6,371.8 800.0,371.2 800.4,371.6 800.8,372.2 801.2,372.3 801.6,372.4 802.0,371.7 802.4,371.6 802.8,371.2 803.2,371.9 803.6,372.9 804.0,373.4 804.4,372.8 804.8,372.3 805.2,372.1 805.6,372.5 806.0,372.4 806.4,372.6 806.8,372.6 807.2,372.4 807.6,372.2 808.0,371.5 808.4,371.6 808.8,371.3 809.2,371.8 809.6,371.6 810.0,372.1 810.4,372.3 810.8,372.2 811.2,371.9 811.6,371.5 812.0,372.2 812.4,372.9 812.8,373.4 813.2,373.1 813.6,373.1 814.0,372.4 814.4,373.0 814.8,372.4 815.2,372.0 815.6,372.4 816.0,373.0 816.4,373.5 816.8,372.8 817.2,372.3 817.6,372.7 818.0,372.2 818.4,372.1 818.8,372.2 819.2,372.7 819.6,373.3 820.0,373.2 820.4,373.8 820.8,373.3 821.2,373.3 821.6,372.1 822.0,372.0 822.4,372.3 822.8,372.6 823.2,373.1 823.6,372.7 824.0,372.7 824.4,372.5 824.8,372.4 825.2,372.6 825.6,372.9 826.0,373.2 826.4,373.2 826.8,372.8 827.2,372.7 827.6,372.8 828.0,373.4 828.4,374.1 828.8,374.4 829.2,374.1 829.6,373.3 830.0,372.8 830.4,372.6 830.8,372.4 831.2,372.5 831.6,372.7 832.0,373.2 832.4,373.2 832.8,373.3 833.2,372.7 833.6,373.3 834.0,373.5 834.4,374.4 834.8,374.2 835.2,374.5 835.6,373.9 836.0,373.9 836.4,374.3 836.8,374.0 837.2,374.2 837.6,373.9 838.0,374.4 838.4,374.3 838.8,374.2 839.2,373.9 839.6,373.8 840.0,373.2 840.4,373.2 840.8,372.9 841.2,373.1 841.6,373.4 842.0,373.7 842.4,373.3 842.8,373.9 843.2,374.1 843.6,374.7 844.0,374.0 844.4,373.7 844.8,373.6 845.2,373.9 845.6,373.4 846.0,373.5 846.4,374.2 846.8,374.2 847.2,374.3 847.6,373.5 848.0,374.1 848.4,374.2 848.8,373.7 849.2,373.8 849.6,373.9 850.0,374.2 850.4,374.0 850.8,373.6 851.2,373.6 851.6,374.1 852.0,373.9 852.4,374.3 852.8,373.4 853.2,373.9 853.6,373.6 854.0,373.2 854.4,373.1 854.8,372.8 855.2,373.4 855.6,373.9 856.0,373.9 856.4,373.7 856.8,373.7 857.2,374.1 857.6,374.9 858.0,374.5 858.4,374.2 858.8,373.8 859.2,374.1 859.6,374.6 860.0,374.6 860.4,374.3 860.8,374.0 861.2,373.8 861.6,374.4 862.0,374.4 862.4,374.3 862.8,373.6 863.2,373.8 863.6,374.3 864.0,374.5 864.4,374.1 864.8,373.9 865.2,373.4 865.6,373.3 866.0,373.5 866.4,373.9 866.8,374.4 867.2,374.5 867.6,374.8 868.0,374.8 868.4,375.0 868.8,375.0 869.2,374.9 869.6,374.5 870.0,374.5 870.4,374.3 870.8,374.1 871.2,374.0 871.6,373.7 872.0,373.6 872.4,373.6 872.8,374.0 873.2,373.6 873.6,373.6 874.0,373.7 874.4,374.3 874.8,374.0 875.2,374.2 875.6,373.9 876.0,374.1 876.4,374.4 876.8,374.5 877.2,374.4 877.6,374.4 878.0,374.5 878.4,374.6 878.8,374.3 879.2,374.8 879.6,374.2 880.0,373.9 880.4,373.3 880.8,373.6 881.2,373.6 881.6,373.7 882.0,374.1 882.4,374.1 882.8,374.4 883.2,374.5 883.6,374.5 884.0,374.5 884.4,374.9 884.8,375.2 885.2,375.0 885.6,374.5 886.0,374.2 886.4,374.4 886.8,374.7 887.2,374.8 887.6,374.6 888.0,374.7 888.4,374.8 888.8,374.9 889.2,374.3 889.6,374.2 890.0,374.0 890.4,375.0 890.8,375.1 891.2,375.1 891.6,374.3 892.0,374.4 892.4,374.8 892.8,375.0 893.2,375.7 893.6,375.5 894.0,375.9 894.4,375.4 894.8,375.5 895.2,374.7 895.6,374.6 896.0,374.4 896.4,374.8 896.8,374.2 897.2,374.5 897.6,374.4 898.0,374.9 898.4,374.6 898.8,374.7 899.2,374.9 899.6,374.7 900.0,374.5 900.4,374.4 900.8,374.9 901.2,375.0 901.6,374.8 902.0,374.5 902.4,374.6 902.8,375.1 903.2,375.1 903.6,375.5 904.0,375.5 904.4,375.6 904.8,375.4 905.2,374.8 905.6,374.4 906.0,373.8 906.4,374.1 906.8,374.6 907.2,374.8 907.6,375.0 908.0,374.4 908.4,374.7 908.8,374.3 909.2,374.8 909.6,374.5 910.0,374.6 910.4,374.4 910.8,374.2 911.2,374.6 911.6,375.1 912.0,375.6 912.4,375.3 912.8,374.9 913.2,374.5 913.6,375.0 914.0,374.6 914.4,375.2 914.8,375.0 915.2,375.3 915.6,375.1 916.0,375.5 916.4,375.9 916.8,376.1 917.2,375.3 917.6,374.5 918.0,373.5 918.4,372.4 918.8,371.4 919.2,370.0 919.6,369.0 920.0,367.3 920.4,366.1 920.8,365.2 921.2,364.0 921.6,363.3 922.0,362.1 922.4,361.5 922.8,359.6 923.2,358.4 923.6,357.4 924.0,356.3 924.4,354.4 924.8,351.5 925.2,349.9 925.6,347.7 926.0,346.6 926.4,343.9 926.8,342.3 927.2,339.9 927.6,338.7 928.0,336.2 928.4,334.1 928.8,332.5 929.2,330.5 929.6,331.6 930.0,335.0 930.4,339.1 930.8,343.8 931.2,348.6 931.6,352.8 932.0,356.2 932.4,359.1 932.8,362.4 933.2,365.9 933.6,368.6 934.0,370.2 934.4,370.3 934.8,370.0 935.2,370.2 935.6,371.0 936.0,371.6 936.4,373.0 936.8,373.2 937.2,373.6 937.6,373.6 938.0,374.5 938.4,375.2 938.8,374.6 939.2,374.3 939.6,374.6 940.0,374.8 940.4,374.5 940.8,374.5 941.2,374.7 941.6,374.6 942.0,374.3 942.4,374.0 942.8,374.5 943.2,374.7 943.6,375.2 944.0,375.4 944.4,375.0 944.8,374.8 945.2,374.9 945.6,375.5 946.0,375.7 946.4,375.3 946.8,375.0 947.2,375.0 947.6,374.9 948.0,374.5 948.4,374.6 948.8,374.8 949.2,375.3 949.6,374.7 950.0,374.5 950.4,374.3 950.8,374.7 951.2,375.2 951.6,374.9 952.0,375.3 952.4,374.8 952.8,375.2 953.2,375.3 953.6,375.6 954.0,375.5 954.4,375.9 954.8,375.6 955.2,376.2 955.6,375.7 956.0,376.4 956.4,376.2 956.8,376.4 957.2,375.8 957.6,376.2 958.0,375.7 958.4,375.9 958.8,376.1 959.2,376.4 959.6,376.5 960.0,376.6 960.4,376.7 960.8,376.4 961.2,376.0 961.6,375.5 962.0,376.1 962.4,376.2 962.8,376.4 963.2,375.9 963.6,375.6 964.0,375.8 964.4,375.7 964.8,375.8 965.2,375.2 965.6,375.4 966.0,375.1 966.4,375.6 966.8,375.9 967.2,375.6 967.6,375.9 968.0,375.7 968.4,375.9 968.8,375.4 969.2,375.1 969.6,375.4 970.0,375.5 970.4,375.9 970.8,376.1 971.2,376.6 971.6,377.1 972.0,376.7 972.4,376.1 972.8,375.9 973.2,376.1 973.6,376.8 974.0,376.5 974.4,376.7 974.8,376.7 975.2,376.9 975.6,376.7 976.0,376.5 976.4,376.4 976.8,376.3 977.2,376.5 977.6,376.3 978.0,376.7 978.4,376.4 978.8,376.9 979.2,376.3 979.6,376.3 980.0,376.6 980.4,376.6 980.8,376.3 981.2,375.5 981.6,375.5 982.0,376.5 982.4,376.7 982.8,377.1 983.2,376.2 983.6,376.3 984.0,376.2 984.4,377.0 984.8,376.7 985.2,376.7 985.6,376.3 986.0,376.2 986.4,376.0 986.8,375.8 987.2,375.5 987.6,375.7 988.0,375.9 988.4,376.4 988.8,375.9 989.2,376.2 989.6,376.4 990.0,377.1 990.4,377.0 990.8,376.8 991.2,376.8 991.6,376.3 992.0,376.4 992.4,376.2 992.8,376.2 993.2,376.6 993.6,376.7 994.0,376.6 994.4,376.2 994.8,376.3 995.2,376.1 995.6,376.0 996.0,375.9 996.4,376.0 996.8,376.1 997.2,376.0 997.6,376.7 998.0,377.1 998.4,377.5 998.8,376.9 999.2,377.1 999.6,377.1 1000.0,377.1 1000.4,376.5 1000.8,376.5 1001.2,377.0 1001.6,376.9 1002.0,377.4 1002.4,376.8 1002.8,377.0 1003.2,376.1 1003.6,376.9 1004.0,376.6 1004.4,376.9 1004.8,376.6 1005.2,377.1 1005.6,376.8 1006.0,376.4 1006.4,375.6 1006.8,376.0 1007.2,376.1 1007.6,376.4 1008.0,376.2 1008.4,376.1 1008.8,376.0 1009.2,376.3 1009.6,376.0 1010.0,374.8 1010.4,373.8 1010.8,372.3 1011.2,372.2 1011.6,371.1 1012.0,370.3 1012.4,369.0 1012.8,368.6 1013.2,367.8 1013.6,367.2 1014.0,366.3 1014.4,365.3 1014.8,364.0 1015.2,363.2 1015.6,362.5 1016.0,362.1 1016.4,361.3 1016.8,360.7 1017.2,359.6 1017.6,358.3 1018.0,357.6 1018.4,357.5 1018.8,356.7 1019.2,355.1 1019.6,353.6 1020.0,352.9 1020.4,352.0 1020.8,351.3 1021.2,350.3 1021.6,349.6 1022.0,349.0 1022.4,348.4 1022.8,347.9 1023.2,347.0 1023.6,346.6 1024.0,345.7 1024.4,344.7 1024.8,343.4 1025.2,343.2 1025.6,342.6 1026.0,344.7 1026.4,346.5 1026.8,348.8 1027.2,351.5 1027.6,354.3 1028.0,356.8 1028.4,358.7 1028.8,360.5 1029.2,362.1 1029.6,364.6 1030.0,367.0 1030.4,370.5 1030.8,372.8 1031.2,373.4 1031.6,372.7 1032.0,373.0 1032.4,373.5 1032.8,373.7 1033.2,373.8 1033.6,374.5 1034.0,375.0 1034.4,375.1 1034.8,375.5 1035.2,375.6 1035.6,376.0 1036.0,375.7 1036.4,375.8 1036.8,376.4 1037.2,376.6 1037.6,376.9 1038.0,376.9 1038.4,377.3 1038.8,377.4 1039.2,376.9 1039.6,377.4 1040.0,377.7 1040.4,378.1 1040.8,377.2 1041.2,376.6 1041.6,376.8 1042.0,377.9 1042.4,378.3 1042.8,378.4 1043.2,377.7 1043.6,377.6 1044.0,377.2 1044.4,377.5 1044.8,377.2 1045.2,377.5 1045.6,377.7 1046.0,377.9 1046.4,377.2 1046.8,377.0 1047.2,377.1 1047.6,376.8 1048.0,377.0 1048.4,377.2 1048.8,377.8 1049.2,378.2 1049.6,378.2 1050.0,378.1 1050.4,377.6 1050.8,377.2 1051.2,377.3 1051.6,377.4 1052.0,377.5 1052.4,377.6 1052.8,378.0 1053.2,378.4 1053.6,378.8 1054.0,378.5 1054.4,378.4 1054.8,378.6 1055.2,378.5 1055.6,378.9 1056.0,378.2 1056.4,378.1 1056.8,377.2 1057.2,377.4 1057.6,377.7 1058.0,378.5 1058.4,378.4 1058.8,378.3 1059.2,377.8 1059.6,377.8 1060.0,377.4 1060.4,377.6 1060.8,377.3 1061.2,377.6 1061.6,377.6 1062.0,377.9 1062.4,377.6 1062.8,377.2 1063.2,377.9 1063.6,377.9 1064.0,378.7 1064.4,378.3 1064.8,378.6 1065.2,377.8 1065.6,378.0 1066.0,378.6 1066.4,378.6 1066.8,378.2 1067.2,378.0 1067.6,378.4 1068.0,379.1 1068.4,378.6 1068.8,378.7 1069.2,377.7 1069.6,378.5 1070.0,378.1 1070.4,377.9 1070.8,377.2 1071.2,377.4 1071.6,378.6 1072.0,378.5 1072.4,378.6 1072.8,378.2 1073.2,378.7 1073.6,378.7 1074.0,378.8 1074.4,378.5 1074.8,378.5 1075.2,378.2 1075.6,378.0 1076.0,377.9 1076.4,378.2 1076.8,377.8 1077.2,378.4 1077.6,378.3 1078.0,378.7 1078.4,378.1 1078.8,377.8 1079.2,378.0 1079.6,378.4 1080.0,378.5 1080.4,378.7 1080.8,378.3 1081.2,378.3 1081.6,377.6 1082.0,377.9 1082.4,377.9 1082.8,378.2 1083.2,378.4 1083.6,378.5 1084.0,377.8 1084.4,377.5 1084.8,376.9 1085.2,378.0 1085.6,378.7 1086.0,379.0 1086.4,378.7 1086.8,377.9 1087.2,378.2 1087.6,378.3 1088.0,378.8 1088.4,378.4 1088.8,378.6 1089.2,378.0 1089.6,378.4" fill="none" stroke="#ed7d31" stroke-width="1.3" stroke-linejoin="round" stroke-linecap="round"/>
<polyline points="624.5,374.8 624.9,374.8 625.3,374.8 625.7,374.8 626.1,374.8 626.5,374.8 626.9,374.8 627.3,374.8 627.7,374.8 628.1,374.8 628.5,374.8 628.9,374.8 629.3,374.8 629.7,374.8 630.1,374.8 630.5,374.8 630.9,374.8 631.3,374.8 631.7,374.8 632.1,374.8 632.5,374.8 632.9,374.8 633.3,374.8 633.7,374.8 634.1,374.8 634.5,374.8 634.9,374.8 635.3,374.8 635.7,374.8 636.1,374.8 636.5,374.8 636.9,374.8 637.3,374.8 637.7,374.8 638.1,374.8 638.5,374.8 638.9,374.8 639.3,374.8 639.7,374.8 640.1,374.8 640.5,374.8 640.9,374.8 641.3,374.8 641.7,374.8 642.1,374.8 642.5,374.8 642.9,374.8 643.3,374.8 643.7,374.8 644.1,374.8 644.5,374.8 644.9,374.8 645.3,374.8 645.7,374.8 646.1,374.8 646.5,374.8 646.9,374.8 647.3,374.8 647.7,374.8 648.1,374.8 648.5,374.8 648.9,374.8 649.3,374.8 649.7,374.8 650.1,374.8 650.5,374.8 650.9,374.8 651.3,374.8 651.7,374.8 652.1,374.8 652.5,374.9 652.9,374.9 653.3,374.9 653.7,374.9 654.1,374.9 654.5,374.9 654.9,374.9 655.3,374.9 655.7,374.9 656.1,374.9 656.5,374.9 656.9,374.9 657.3,374.9 657.7,374.9 658.1,374.9 658.5,374.9 658.9,374.9 659.3,374.9 659.7,374.9 660.1,374.9 660.5,374.9 660.9,374.9 661.3,374.9 661.7,374.9 662.1,374.9 662.5,374.9 662.9,374.9 663.3,374.9 663.7,374.9 664.1,374.9 664.5,374.9 664.9,374.9 665.3,374.9 665.7,374.9 666.1,374.9 666.5,374.9 666.9,374.9 667.3,374.9 667.7,374.9 668.1,374.9 668.5,374.9 668.9,374.9 669.3,374.9 669.7,374.9 670.1,374.9 670.5,374.9 670.9,374.9 671.3,374.9 671.7,374.9 672.1,374.9 672.5,374.9 672.9,374.9 673.3,374.9 673.7,374.9 674.1,374.9 674.5,374.9 674.9,374.9 675.3,374.9 675.7,374.9 676.1,374.9 676.5,374.9 676.9,374.9 677.3,374.9 677.7,374.9 678.1,374.9 678.5,374.9 678.9,374.9 679.3,374.9 679.7,374.9 680.1,374.9 680.7,375.2 680.9,375.2 681.0,375.2 681.1,375.2 681.3,375.2 681.4,375.1 681.5,375.1 681.6,375.1 681.8,375.0 681.9,375.0 682.0,375.0 682.2,374.9 682.3,374.8 682.4,374.8 682.6,374.7 682.7,374.5 682.8,374.2 683.0,373.8 683.1,372.9 683.2,371.5 683.4,369.4 683.5,366.5 683.6,362.6 683.7,357.8 683.9,352.1 684.0,345.6 684.1,338.7 684.3,332.0 684.4,324.8 684.5,316.5 684.7,306.8 684.8,296.0 684.9,284.4 685.1,272.3 685.2,259.5 685.3,245.6 685.4,230.2 685.6,213.3 685.7,194.8 685.8,175.2 686.0,155.9 686.1,138.6 686.2,123.7 686.4,109.9 686.5,95.9 686.6,81.3 686.8,68.0 686.9,57.6 687.0,50.9 687.1,47.7 687.3,47.8 687.4,51.4 687.5,58.9 687.6,71.3 687.7,87.9 687.8,106.3 687.9,125.0 688.0,143.9 688.2,163.1 688.3,182.5 688.4,201.7 688.5,220.6 688.6,238.9 688.7,256.2 688.8,271.6 688.9,285.1 689.0,297.0 689.2,307.5 689.3,316.6 689.4,323.8 689.5,329.6 689.6,334.1 689.7,337.6 689.8,340.4 689.9,342.7 690.0,344.7 690.2,346.5 690.3,348.0 690.4,349.4 690.5,350.6 690.6,351.8 690.7,352.8 690.8,353.8 690.9,354.7 691.0,355.6 691.1,356.4 691.3,357.1 691.4,357.9 691.5,358.6 691.6,359.2 691.7,359.8 691.8,360.4 691.9,361.0 692.0,361.5 692.1,362.0 692.3,362.4 692.4,362.8 692.5,363.2 692.6,363.5 692.7,363.9 692.8,364.2 692.9,364.5 693.0,364.8 693.1,365.1 693.3,365.4 693.4,365.7 693.5,365.9 693.6,366.2 693.7,366.4 693.8,366.6 693.9,366.8 694.0,367.0 694.1,367.2 694.3,367.4 694.4,367.5 694.5,367.7 694.6,367.9 694.7,368.0 694.8,368.2 694.9,368.3 695.0,368.5 695.1,368.6 695.3,368.8 695.4,368.9 695.5,369.0 695.6,369.2 695.7,369.3 695.8,369.5 695.9,369.6 696.0,369.7 696.1,369.8 696.3,369.9 696.4,370.0 696.5,370.2 696.6,370.2 696.7,370.3 696.8,370.4 696.9,370.5 697.0,370.6 697.1,370.7 697.2,370.8 697.4,370.9 697.5,370.9 697.6,371.0 697.7,371.1 697.8,371.2 697.9,371.3 698.0,371.3 698.1,371.4 698.2,371.5 698.4,371.6 698.5,371.6 698.6,371.7 698.7,371.7 698.8,371.8 698.9,371.9 699.0,371.9 699.1,371.9 699.2,372.0 699.4,372.0 699.5,372.1 699.6,372.1 699.7,372.1 699.8,372.1 699.9,372.2 700.0,372.2 700.1,372.2 700.2,372.2 700.4,372.2 700.5,372.3 700.6,372.3 700.7,372.3 700.8,372.3 700.9,372.3 701.0,372.3 701.1,372.3 701.2,372.3 701.4,372.4 701.5,372.4 701.6,372.4 701.7,372.4 701.8,372.4 701.9,372.4 702.0,372.4 702.1,372.4 702.2,372.4 702.4,372.5 702.5,372.5 702.6,372.5 702.7,372.5 702.8,372.5 702.9,372.6 703.0,372.6 703.1,372.6 703.2,372.6 703.3,372.6 703.5,372.7 703.6,372.7 703.7,372.7 703.8,372.7 703.9,372.7 704.0,372.8 704.1,372.8 704.2,372.8 704.3,372.8 704.5,372.9 704.6,372.9 704.7,372.9 704.8,372.9 704.9,372.9 705.0,373.0 705.1,373.0 705.2,373.0 705.3,373.0 705.5,373.0 705.6,373.1 705.7,373.1 705.8,373.1 705.9,373.1 706.0,373.1 706.1,373.2 706.2,373.2 706.3,373.2 706.5,373.2 706.6,373.2 706.7,373.2 706.8,373.3 706.9,373.3 707.0,373.3 707.1,373.3 707.2,373.3 707.3,373.3 707.5,373.4 707.6,373.4 707.7,373.4 707.8,373.4 707.9,373.4 708.0,373.4 708.1,373.5 708.2,373.5 708.3,373.5 708.5,373.5 708.6,373.5 708.7,373.5 708.8,373.5 708.9,373.6 709.0,373.6 709.1,373.6 709.2,373.6 709.3,373.6 709.4,373.6 709.6,373.6 709.7,373.7 709.8,373.7 709.9,373.7 710.0,373.7 710.1,373.7 710.2,373.7 710.3,373.7 710.4,373.7 710.6,373.8 710.7,373.8 710.8,373.8 710.9,373.8 711.0,373.8 711.1,373.8 711.2,373.8 711.3,373.8 711.4,373.8 722.0,374.0 722.4,373.9 722.8,374.0 723.2,373.9 723.6,374.2 724.0,374.2 724.4,374.3 724.8,374.3 725.2,374.4 725.6,374.2 726.0,374.4 726.4,374.0 726.8,374.1 727.2,373.9 727.6,374.1 728.0,373.8 728.4,373.6 728.8,373.5 729.2,373.6 729.6,373.9 730.0,373.8 730.4,374.1 730.8,374.1 731.2,374.3 731.6,374.0 732.0,373.8 732.4,373.7 732.8,373.7 733.2,373.8 733.6,374.0 734.0,373.9 734.4,373.8 734.8,373.7 735.2,374.0 735.6,374.3 736.0,374.5 736.4,374.5 736.8,374.0 737.2,373.7 737.6,373.5 738.0,373.8 738.4,373.9 738.8,374.2 739.2,374.0 739.6,374.1 740.0,374.3 740.4,374.3 740.8,374.2 741.2,373.9 741.6,374.1 742.0,374.0 742.4,374.0 742.8,373.6 743.2,373.6 743.6,373.8 744.0,374.4 744.4,374.4 744.8,374.5 745.2,374.1 745.6,374.1 746.0,373.9 746.4,373.8 746.8,373.9 747.2,374.2 747.6,374.0 748.0,374.1 748.4,373.9 748.8,374.1 749.2,374.0 749.6,374.1 750.0,374.2 750.4,374.2 750.8,374.2 751.2,373.9 751.6,374.0 752.0,374.2 752.4,374.6 752.8,374.6 753.2,374.0 753.6,373.9 754.0,373.6 754.4,373.7 754.8,373.9 755.2,373.9 755.6,373.9 756.0,373.3 756.4,372.6 756.8,371.8 757.2,371.2 757.6,370.3 758.0,369.8 758.4,368.9 758.8,363.1 759.2,351.9 759.6,341.5 760.0,331.1 760.4,320.5 760.8,305.0 761.2,289.4 761.6,274.3 762.0,259.0 762.4,244.0 762.8,234.3 763.2,226.6 763.6,218.6 764.0,210.5 764.4,208.8 764.8,224.4 765.2,240.2 765.6,293.3 766.0,326.0 766.4,337.8 766.8,349.8 767.2,356.5 767.6,357.6 768.0,358.9 768.4,360.7 768.8,362.6 769.2,364.3 769.6,365.7 770.0,366.7 770.4,367.7 770.8,367.9 771.2,368.0 771.6,368.1 772.0,368.4 772.4,368.7 772.8,368.9 773.2,369.2 773.6,369.5 774.0,370.0 774.4,370.2 774.8,370.5 775.2,370.6 775.6,370.8 776.0,371.0 776.4,371.1 776.8,371.5 777.2,372.0 777.6,372.4 778.0,372.1 778.4,372.0 778.8,371.8 779.2,372.1 779.6,372.1 780.0,372.1 780.4,372.2 780.8,372.4 781.2,372.3 781.6,372.4 782.0,372.6 782.4,372.7 782.8,372.7 783.2,372.4 783.6,372.7 784.0,372.6 784.4,372.6 784.8,372.5 785.2,372.4 785.6,372.6 786.0,372.7 786.4,372.9 786.8,372.8 787.2,372.3 787.6,372.3 788.0,372.2 788.4,372.8 788.8,373.0 789.2,373.3 789.6,373.2 790.0,373.1 790.4,373.1 790.8,373.1 791.2,373.1 791.6,373.0 792.0,373.3 792.4,373.3 792.8,373.6 793.2,373.4 793.6,373.4 794.0,373.3 794.4,373.4 794.8,373.5 795.2,373.6 795.6,373.4 796.0,373.2 796.4,373.4 796.8,373.5 797.2,373.5 797.6,373.5 798.0,373.7 798.4,373.8 798.8,373.6 799.2,373.8 799.6,373.8 800.0,373.9 800.4,373.5 800.8,373.3 801.2,373.0 801.6,373.1 802.0,373.4 802.4,373.5 802.8,373.3 803.2,373.1 803.6,373.0 804.0,373.0 804.4,373.4 804.8,373.6 805.2,374.2 805.6,374.2 806.0,374.0 806.4,373.4 806.8,372.8 807.2,372.8 807.6,372.9 808.0,373.6 808.4,373.7 808.8,373.9 809.2,373.8 809.6,373.8 810.0,373.9 810.4,373.7 810.8,373.6 811.2,373.2 811.6,373.6 812.0,373.8 812.4,374.1 812.8,373.7 813.2,373.6 813.6,373.4 814.0,373.6 814.4,373.6 814.8,373.7 815.2,373.6 815.6,373.8 816.0,373.8 816.4,373.8 816.8,373.6 817.2,373.5 817.6,373.7 818.0,373.7 818.4,373.8 818.8,373.6 819.2,373.5 819.6,373.6 820.0,373.5 820.4,373.8 820.8,373.7 821.2,373.6 821.6,373.4 822.0,373.3 822.4,373.4 822.8,373.4 823.2,373.6 823.6,373.7 824.0,373.9 824.4,373.7 824.8,373.8 825.2,373.7 825.6,373.7 826.0,373.8 826.4,373.9 826.8,373.8 827.2,373.6 827.6,373.6 828.0,373.7 828.4,373.9 828.8,373.7 829.2,373.8 829.6,374.2 830.0,374.2 830.4,374.2 830.8,373.9 831.2,373.6 831.6,373.6 832.0,373.4 832.4,374.0 832.8,374.0 833.2,374.0 833.6,373.7 834.0,373.8 834.4,373.8 834.8,373.9 835.2,373.6 835.6,373.7 836.0,373.8 836.4,374.3 836.8,374.5 837.2,374.4 837.6,374.3 838.0,374.3 838.4,374.5 838.8,374.5 839.2,374.4 839.6,374.2 840.0,374.0 840.4,374.1 840.8,374.1 841.2,374.0 841.6,373.6 842.0,373.5 842.4,373.3 842.8,373.6 843.2,373.7 843.6,373.8 844.0,373.9 844.4,374.0 844.8,374.3 845.2,374.4 845.6,374.5 846.0,374.4 846.4,374.3 846.8,374.1 847.2,374.3 847.6,374.3 848.0,374.1 848.4,374.0 848.8,373.7 849.2,373.7 849.6,373.8 850.0,373.7 850.4,373.7 850.8,373.8 851.2,374.0 851.6,374.2 852.0,373.8 852.4,373.7 852.8,373.6 853.2,373.9 853.6,373.9 854.0,374.1 854.4,374.1 854.8,374.2 855.2,374.1 855.6,374.2 856.0,374.1 856.4,374.3 856.8,374.2 857.2,374.3 857.6,374.2 858.0,374.2 858.4,374.3 858.8,374.4 859.2,374.4 859.6,374.4 860.0,374.3 860.4,374.4 860.8,374.3 861.2,374.0 861.6,374.0 862.0,374.0 862.4,374.1 862.8,373.9 863.2,373.8 863.6,374.2 864.0,374.3 864.4,374.2 864.8,374.0 865.2,373.9 865.6,374.4 866.0,374.2 866.4,373.9 866.8,373.6 867.2,373.7 867.6,374.0 868.0,373.7 868.4,373.8 868.8,374.1 869.2,374.1 869.6,374.3 870.0,373.9 870.4,374.5 870.8,374.4 871.2,374.5 871.6,374.3 872.0,374.3 872.4,374.3 872.8,374.2 873.2,374.1 873.6,373.9 874.0,374.1 874.4,374.1 874.8,374.3 875.2,374.0 875.6,373.9 876.0,373.8 876.4,373.6 876.8,373.8 877.2,374.0 877.6,374.2 878.0,374.3 878.4,374.3 878.8,374.2 879.2,374.2 879.6,374.1 880.0,373.9 880.4,374.2 880.8,374.2 881.2,374.4 881.6,374.0 882.0,374.0 882.4,373.9 882.8,374.2 883.2,374.1 883.6,374.1 884.0,374.2 884.4,374.3 884.8,374.3 885.2,374.4 885.6,374.2 886.0,374.3 886.4,374.1 886.8,374.0 887.2,374.0 887.6,374.0 888.0,374.3 888.4,374.6 888.8,374.6 889.2,374.6 889.6,374.4 890.0,374.5 890.4,374.4 890.8,374.4 891.2,374.7 891.6,374.6 892.0,374.4 892.4,374.3 892.8,374.2 893.2,374.3 893.6,373.7 894.0,373.9 894.4,374.0 894.8,374.6 895.2,374.6 895.6,374.7 896.0,374.6 896.4,374.6 896.8,374.2 897.2,374.2 897.6,374.2 898.0,374.4 898.4,374.2 898.8,374.1 899.2,374.1 899.6,374.1 900.0,374.2 900.4,374.1 900.8,374.0 901.2,373.8 901.6,374.1 902.0,374.1 902.4,374.3 902.8,374.1 903.2,374.5 903.6,374.3 904.0,374.1 904.4,374.0 904.8,374.3 905.2,374.3 905.6,374.1 906.0,374.1 906.4,374.4 906.8,374.6 907.2,374.4 907.6,374.3 908.0,374.3 908.4,374.5 908.8,374.2 909.2,374.2 909.6,374.1 910.0,374.1 910.4,374.1 910.8,374.2 911.2,374.3 911.6,374.3 912.0,374.1 912.4,374.1 912.8,374.1 913.2,374.4 913.6,374.5 914.0,374.3 914.4,374.1 914.8,373.9 915.2,374.2 915.6,374.7 916.0,374.8 916.4,374.6 916.8,374.4 917.2,373.6 917.6,372.3 918.0,371.4 918.4,370.4 918.8,369.5 919.2,368.0 919.6,367.0 920.0,365.8 920.4,364.7 920.8,363.1 921.2,361.7 921.6,360.5 922.0,359.7 922.4,358.8 922.8,357.0 923.2,353.8 923.6,350.6 924.0,347.8 924.4,344.9 924.8,342.1 925.2,338.9 925.6,336.0 926.0,333.0 926.4,330.0 926.8,326.7 927.2,323.7 927.6,321.3 928.0,318.9 928.4,316.2 928.8,313.4 929.2,311.0 929.6,308.6 930.0,305.6 930.4,303.0 930.8,300.1 931.2,297.7 931.6,302.6 932.0,307.6 932.4,312.8 932.8,318.1 933.2,323.2 933.6,330.3 934.0,337.7 934.4,345.4 934.8,353.1 935.2,357.7 935.6,358.8 936.0,360.0 936.4,361.3 936.8,362.5 937.2,363.6 937.6,364.6 938.0,366.0 938.4,367.4 938.8,367.9 939.2,368.1 939.6,368.3 940.0,368.4 940.4,368.2 940.8,368.7 941.2,369.0 941.6,369.3 942.0,369.0 942.4,369.0 942.8,369.0 943.2,369.2 943.6,369.4 944.0,369.9 944.4,370.1 944.8,370.3 945.2,370.3 945.6,370.6 946.0,370.5 946.4,370.7 946.8,370.9 947.2,371.0 947.6,371.5 948.0,371.5 948.4,372.0 948.8,371.6 949.2,371.9 949.6,371.5 950.0,371.5 950.4,371.5 950.8,371.9 951.2,372.0 951.6,372.2 952.0,372.1 952.4,372.3 952.8,372.3 953.2,372.6 953.6,372.4 954.0,372.6 954.4,372.7 954.8,373.0 955.2,372.7 955.6,372.4 956.0,372.4 956.4,372.7 956.8,372.9 957.2,373.1 957.6,373.0 958.0,373.3 958.4,373.5 958.8,373.6 959.2,373.6 959.6,373.8 960.0,374.0 960.4,373.8 960.8,373.6 961.2,373.5 961.6,373.6 962.0,373.8 962.4,374.1 962.8,374.4 963.2,374.5 963.6,374.4 964.0,374.2 964.4,373.9 964.8,373.8 965.2,373.8 965.6,374.0 966.0,374.0 966.4,374.0 966.8,373.9 967.2,373.9 967.6,374.1 968.0,374.2 968.4,374.3 968.8,374.2 969.2,374.2 969.6,374.1 970.0,374.4 970.4,374.5 970.8,374.6 971.2,374.6 971.6,374.9 972.0,374.6 972.4,374.7 972.8,374.5 973.2,374.6 973.6,374.2 974.0,374.3 974.4,374.4 974.8,374.4 975.2,374.5 975.6,374.4 976.0,374.2 976.4,374.2 976.8,374.4 977.2,374.7 977.6,374.4 978.0,374.5 978.4,374.4 978.8,374.8 979.2,374.4 979.6,374.4 980.0,374.1 980.4,374.1 980.8,373.9 981.2,374.1 981.6,374.3 982.0,374.3 982.4,374.3 982.8,374.5 983.2,374.7 983.6,374.5 984.0,374.3 984.4,374.3 984.8,374.3 985.2,374.2 985.6,374.2 986.0,374.5 986.4,374.5 986.8,374.0 987.2,373.5 987.6,373.6 988.0,373.9 988.4,374.2 988.8,374.3 989.2,374.3 989.6,374.2 990.0,374.1 990.4,374.2 990.8,374.1 991.2,374.6 991.6,374.7 992.0,374.7 992.4,374.2 992.8,374.0 993.2,373.9 993.6,373.9 994.0,373.9 994.4,374.2 994.8,374.3 995.2,374.3 995.6,373.9 996.0,373.8 996.4,373.9 996.8,374.1 997.2,374.4 997.6,374.3 998.0,374.5 998.4,374.4 998.8,374.5 999.2,374.0 999.6,373.8 1000.0,373.9 1000.4,374.4 1000.8,374.6 1001.2,374.6 1001.6,374.4 1002.0,374.3 1002.4,374.1 1002.8,374.3 1003.2,374.4 1003.6,374.5 1004.0,374.3 1004.4,374.3 1004.8,374.4 1005.2,374.3 1005.6,374.5 1006.0,374.5 1006.4,374.6 1006.8,374.6 1007.2,374.7 1007.6,374.6 1008.0,374.5 1008.4,374.2 1008.8,374.1 1009.2,373.7 1009.6,372.8 1010.0,371.5 1010.4,370.7 1010.8,369.2 1011.2,368.1 1011.6,366.7 1012.0,365.7 1012.4,364.7 1012.8,363.8 1013.2,362.6 1013.6,361.4 1014.0,359.9 1014.4,358.7 1014.8,357.4 1015.2,356.2 1015.6,354.9 1016.0,353.6 1016.4,352.5 1016.8,351.4 1017.2,350.1 1017.6,348.7 1018.0,347.4 1018.4,346.0 1018.8,344.8 1019.2,343.6 1019.6,342.2 1020.0,340.9 1020.4,339.5 1020.8,338.4 1021.2,337.6 1021.6,335.8 1022.0,335.0 1022.4,333.6 1022.8,332.8 1023.2,331.3 1023.6,329.9 1024.0,328.3 1024.4,327.2 1024.8,325.7 1025.2,324.5 1025.6,323.3 1026.0,322.0 1026.4,320.7 1026.8,319.4 1027.2,318.0 1027.6,317.0 1028.0,319.9 1028.4,322.8 1028.8,325.5 1029.2,328.2 1029.6,331.2 1030.0,334.1 1030.4,337.8 1030.8,342.0 1031.2,345.9 1031.6,350.1 1032.0,354.0 1032.4,358.2 1032.8,361.9 1033.2,362.7 1033.6,363.2 1034.0,364.1 1034.4,365.2 1034.8,366.4 1035.2,367.3 1035.6,368.0 1036.0,368.5 1036.4,369.2 1036.8,369.9 1037.2,371.0 1037.6,371.3 1038.0,371.3 1038.4,371.1 1038.8,371.2 1039.2,371.5 1039.6,371.7 1040.0,371.7 1040.4,371.7 1040.8,371.8 1041.2,371.7 1041.6,371.5 1042.0,371.8 1042.4,371.8 1042.8,372.1 1043.2,372.0 1043.6,372.3 1044.0,372.5 1044.4,372.7 1044.8,372.5 1045.2,372.6 1045.6,372.4 1046.0,372.8 1046.4,373.0 1046.8,373.3 1047.2,373.6 1047.6,373.8 1048.0,373.9 1048.4,373.8 1048.8,373.7 1049.2,373.7 1049.6,373.9 1050.0,373.7 1050.4,373.7 1050.8,373.6 1051.2,374.0 1051.6,373.9 1052.0,373.6 1052.4,373.3 1052.8,373.5 1053.2,373.7 1053.6,373.7 1054.0,373.5 1054.4,373.4 1054.8,373.3 1055.2,373.0 1055.6,372.8 1056.0,373.1 1056.4,373.4 1056.8,373.6 1057.2,373.6 1057.6,373.7 1058.0,373.4 1058.4,373.3 1058.8,373.1 1059.2,373.3 1059.6,373.2 1060.0,373.3 1060.4,373.5 1060.8,373.3 1061.2,373.3 1061.6,373.6 1062.0,373.7 1062.4,373.5 1062.8,373.2 1063.2,373.5 1063.6,373.8 1064.0,373.6 1064.4,373.6 1064.8,373.5 1065.2,373.5 1065.6,373.2 1066.0,373.3 1066.4,373.6 1066.8,373.8 1067.2,373.8 1067.6,373.8 1068.0,373.7 1068.4,373.9 1068.8,373.5 1069.2,373.3 1069.6,373.3 1070.0,373.3 1070.4,373.5 1070.8,373.3 1071.2,373.5 1071.6,373.4 1072.0,373.7 1072.4,373.4 1072.8,373.6 1073.2,373.7 1073.6,374.1 1074.0,373.9 1074.4,373.7 1074.8,374.0 1075.2,373.8 1075.6,373.7 1076.0,373.4 1076.4,373.7 1076.8,373.7 1077.2,373.8 1077.6,373.7 1078.0,373.6 1078.4,373.4 1078.8,373.4 1079.2,373.4 1079.6,373.5 1080.0,373.4 1080.4,373.6 1080.8,373.6 1081.2,373.6 1081.6,373.5 1082.0,373.5 1082.4,373.7 1082.8,373.6 1083.2,373.7" fill="none" stroke="#10b050" stroke-width="1.3" stroke-linejoin="round" stroke-linecap="round"/>
</g>
<g id="panel-c">
<rect x="1213.5" y="28.5" width="640" height="414" fill="#fff" stroke="#d8d8d8" stroke-width="1"/>
<line x1="1263.7" y1="410.4" x2="1801.2" y2="410.4" stroke="#d8d8d8" stroke-width="1.0"/>
<line x1="1263.7" y1="349.5" x2="1801.2" y2="349.5" stroke="#d8d8d8" stroke-width="1.0"/>
<line x1="1263.7" y1="287.5" x2="1801.2" y2="287.5" stroke="#d8d8d8" stroke-width="1.0"/>
<line x1="1263.7" y1="226.3" x2="1801.2" y2="226.3" stroke="#d8d8d8" stroke-width="1.0"/>
<line x1="1263.7" y1="164.4" x2="1801.2" y2="164.4" stroke="#f8f8f8" stroke-width="1.0"/>
<line x1="1263.7" y1="102.9" x2="1801.2" y2="102.9" stroke="#d8d8d8" stroke-width="1.0"/>
<line x1="1263.7" y1="41.0" x2="1801.2" y2="41.0" stroke="#d8d8d8" stroke-width="1.0"/>
<line x1="1263.7" y1="41.0" x2="1263.7" y2="410.6" stroke="#d8d8d8" stroke-width="1.0"/>
<line x1="1317.5" y1="41.0" x2="1317.5" y2="410.6" stroke="#d8d8d8" stroke-width="1.0"/>
<line x1="1371.2" y1="41.0" x2="1371.2" y2="410.6" stroke="#d8d8d8" stroke-width="1.0"/>
<line x1="1425.0" y1="41.0" x2="1425.0" y2="410.6" stroke="#d8d8d8" stroke-width="1.0"/>
<line x1="1478.7" y1="41.0" x2="1478.7" y2="410.6" stroke="#d8d8d8" stroke-width="1.0"/>
<line x1="1532.5" y1="41.0" x2="1532.5" y2="410.6" stroke="#d8d8d8" stroke-width="1.0"/>
<line x1="1586.2" y1="41.0" x2="1586.2" y2="410.6" stroke="#d8d8d8" stroke-width="1.0"/>
<line x1="1640.0" y1="41.0" x2="1640.0" y2="410.6" stroke="#d8d8d8" stroke-width="1.0"/>
<line x1="1693.7" y1="41.0" x2="1693.7" y2="410.6" stroke="#d8d8d8" stroke-width="1.0"/>
<line x1="1747.5" y1="41.0" x2="1747.5" y2="410.6" stroke="#d8d8d8" stroke-width="1.0"/>
<line x1="1801.2" y1="41.0" x2="1801.2" y2="410.6" stroke="#d8d8d8" stroke-width="1.0"/>
<text x="1219.60" y="415.20" font-size="12" fill="#595959" textLength="30.40" lengthAdjust="spacingAndGlyphs">14.35</text>
<text x="1219.60" y="353.60" font-size="12" fill="#595959" textLength="30.40" lengthAdjust="spacingAndGlyphs">14.85</text>
<text x="1219.60" y="292.00" font-size="12" fill="#595959" textLength="30.40" lengthAdjust="spacingAndGlyphs">15.35</text>
<text x="1219.60" y="230.40" font-size="12" fill="#595959" textLength="30.40" lengthAdjust="spacingAndGlyphs">15.85</text>
<text x="1219.60" y="168.80" font-size="12" fill="#595959" textLength="30.40" lengthAdjust="spacingAndGlyphs">16.35</text>
<text x="1219.60" y="107.20" font-size="12" fill="#595959" textLength="30.40" lengthAdjust="spacingAndGlyphs">16.85</text>
<text x="1219.60" y="45.60" font-size="12" fill="#595959" textLength="30.40" lengthAdjust="spacingAndGlyphs">17.35</text>
<text x="1263.70" y="433.10" font-size="12" fill="#595959" text-anchor="middle" textLength="13.60" lengthAdjust="spacingAndGlyphs">97</text>
<text x="1317.45" y="433.10" font-size="12" fill="#595959" text-anchor="middle" textLength="13.60" lengthAdjust="spacingAndGlyphs">99</text>
<text x="1371.20" y="433.10" font-size="12" fill="#595959" text-anchor="middle" textLength="20.20" lengthAdjust="spacingAndGlyphs">101</text>
<text x="1424.95" y="433.10" font-size="12" fill="#595959" text-anchor="middle" textLength="20.20" lengthAdjust="spacingAndGlyphs">103</text>
<text x="1478.70" y="433.10" font-size="12" fill="#595959" text-anchor="middle" textLength="20.20" lengthAdjust="spacingAndGlyphs">105</text>
<text x="1532.45" y="433.10" font-size="12" fill="#595959" text-anchor="middle" textLength="20.20" lengthAdjust="spacingAndGlyphs">107</text>
<text x="1586.20" y="433.10" font-size="12" fill="#595959" text-anchor="middle" textLength="20.20" lengthAdjust="spacingAndGlyphs">109</text>
<text x="1639.95" y="433.10" font-size="12" fill="#595959" text-anchor="middle" textLength="20.20" lengthAdjust="spacingAndGlyphs">111</text>
<text x="1693.70" y="433.10" font-size="12" fill="#595959" text-anchor="middle" textLength="20.20" lengthAdjust="spacingAndGlyphs">113</text>
<text x="1747.45" y="433.10" font-size="12" fill="#595959" text-anchor="middle" textLength="20.20" lengthAdjust="spacingAndGlyphs">115</text>
<text x="1801.20" y="433.10" font-size="12" fill="#595959" text-anchor="middle" textLength="20.20" lengthAdjust="spacingAndGlyphs">117</text>
<line x1="1801.2" y1="410.6" x2="1806.2" y2="410.6" stroke="#d8d8d8" stroke-width="1.0"/>
<text x="1814.50" y="414.90" font-size="12" fill="#595959" textLength="6.60" lengthAdjust="spacingAndGlyphs">0</text>
<line x1="1801.2" y1="369.5" x2="1806.2" y2="369.5" stroke="#d8d8d8" stroke-width="1.0"/>
<text x="1814.50" y="373.83" font-size="12" fill="#595959" textLength="20.20" lengthAdjust="spacingAndGlyphs">200</text>
<line x1="1801.2" y1="328.5" x2="1806.2" y2="328.5" stroke="#d8d8d8" stroke-width="1.0"/>
<text x="1814.50" y="332.77" font-size="12" fill="#595959" textLength="20.20" lengthAdjust="spacingAndGlyphs">400</text>
<line x1="1801.2" y1="287.4" x2="1806.2" y2="287.4" stroke="#d8d8d8" stroke-width="1.0"/>
<text x="1814.50" y="291.70" font-size="12" fill="#595959" textLength="20.20" lengthAdjust="spacingAndGlyphs">600</text>
<line x1="1801.2" y1="246.3" x2="1806.2" y2="246.3" stroke="#d8d8d8" stroke-width="1.0"/>
<text x="1814.50" y="250.63" font-size="12" fill="#595959" textLength="20.20" lengthAdjust="spacingAndGlyphs">800</text>
<line x1="1801.2" y1="205.3" x2="1806.2" y2="205.3" stroke="#d8d8d8" stroke-width="1.0"/>
<text x="1814.50" y="209.57" font-size="12" fill="#595959" textLength="27.30" lengthAdjust="spacingAndGlyphs">1000</text>
<line x1="1801.2" y1="164.2" x2="1806.2" y2="164.2" stroke="#d8d8d8" stroke-width="1.0"/>
<text x="1814.50" y="168.50" font-size="12" fill="#595959" textLength="27.30" lengthAdjust="spacingAndGlyphs">1200</text>
<line x1="1801.2" y1="123.1" x2="1806.2" y2="123.1" stroke="#d8d8d8" stroke-width="1.0"/>
<text x="1814.50" y="127.43" font-size="12" fill="#595959" textLength="27.30" lengthAdjust="spacingAndGlyphs">1400</text>
<line x1="1801.2" y1="82.1" x2="1806.2" y2="82.1" stroke="#d8d8d8" stroke-width="1.0"/>
<text x="1814.50" y="86.37" font-size="12" fill="#595959" textLength="27.30" lengthAdjust="spacingAndGlyphs">1600</text>
<line x1="1801.2" y1="41.0" x2="1806.2" y2="41.0" stroke="#d8d8d8" stroke-width="1.0"/>
<text x="1814.50" y="45.30" font-size="12" fill="#595959" textLength="27.30" lengthAdjust="spacingAndGlyphs">1800</text>
<polyline points="1263.7,408.5 1264.7,408.5 1265.7,408.5 1266.7,408.5 1267.7,408.5 1268.7,408.5 1269.7,408.5 1270.7,408.5 1271.7,408.4 1272.7,408.4 1273.7,408.4 1274.7,408.4 1275.7,408.4 1276.7,408.4 1277.7,408.4 1278.7,408.3 1279.7,408.3 1280.7,408.3 1281.7,408.3 1282.7,408.3 1283.7,408.2 1284.7,408.2 1285.7,408.2 1286.7,408.2 1287.7,408.1 1288.7,408.1 1289.7,408.1 1290.7,408.0 1291.7,408.0 1292.7,407.9 1293.7,407.9 1294.7,407.8 1295.7,407.7 1296.7,407.5 1297.7,407.1 1298.7,406.6 1299.7,405.9 1300.7,405.0 1301.7,403.9 1302.7,402.6 1303.7,400.9 1304.7,398.9 1305.7,396.6 1306.7,393.9 1307.7,390.9 1308.7,387.4 1309.7,383.4 1310.7,379.0 1311.7,374.3 1312.7,369.4 1313.7,364.4 1314.7,359.1 1315.7,353.0 1316.7,345.6 1317.7,336.5 1318.7,325.9 1319.7,314.1 1320.7,301.8 1321.7,289.6 1322.7,277.8 1323.7,266.4 1324.7,255.4 1325.7,244.6 1326.7,233.9 1327.7,223.0 1328.7,211.9 1329.7,200.0 1330.7,187.3 1331.7,173.8 1332.7,160.0 1333.7,146.6 1334.7,133.9 1335.7,122.1 1336.7,110.8 1337.7,99.9 1338.7,89.5 1339.7,80.0 1340.7,71.5 1341.7,64.5 1342.7,58.9 1343.7,54.7 1344.7,51.5 1345.7,49.4 1346.7,48.1 1347.7,47.7 1348.7,48.0 1349.7,49.0 1350.7,50.6 1351.7,52.4 1352.7,54.6 1353.7,57.0 1354.7,59.6 1355.7,62.5 1356.7,65.4 1357.7,68.4 1358.7,71.5 1359.7,74.8 1360.7,78.1 1361.7,81.5 1362.7,84.9 1363.7,88.4 1364.7,92.0 1365.7,95.5 1366.7,99.1 1367.7,102.7 1368.7,106.3 1369.7,110.0 1370.7,113.8 1371.7,117.6 1372.7,121.4 1373.7,125.2 1374.7,129.1 1375.7,132.9 1376.7,136.6 1377.7,140.3 1378.7,143.9 1379.7,147.4 1380.7,150.8 1381.7,154.1 1382.7,157.3 1383.7,160.6 1384.7,163.7 1385.7,166.9 1386.7,170.0 1387.7,173.1 1388.7,176.2 1389.7,179.2 1390.7,182.2 1391.7,185.2 1392.7,188.1 1393.7,191.0 1394.7,193.9 1395.7,196.7 1396.7,199.5 1397.7,202.3 1398.7,205.1 1399.7,207.8 1400.7,210.5 1401.7,213.1 1402.7,215.8 1403.7,218.3 1404.7,220.9 1405.7,223.5 1406.7,226.0 1407.7,228.5 1408.7,230.9 1409.7,233.3 1410.7,235.7 1411.7,238.1 1412.7,240.5 1413.7,242.8 1414.7,245.1 1415.7,247.4 1416.7,249.6 1417.7,251.8 1418.7,254.0 1419.7,256.1 1420.7,258.2 1421.7,260.3 1422.7,262.4 1423.7,264.4 1424.7,266.3 1425.7,268.3 1426.7,270.2 1427.7,272.0 1428.7,273.8 1429.7,275.6 1430.7,277.4 1431.7,279.1 1432.7,280.8 1433.7,282.5 1434.7,284.1 1435.7,285.7 1436.7,287.3 1437.7,288.9 1438.7,290.5 1439.7,292.0 1440.7,293.6 1441.7,295.1 1442.7,296.6 1443.7,298.1 1444.7,299.6 1445.7,301.1 1446.7,302.6 1447.7,304.1 1448.7,305.5 1449.7,307.0 1450.7,308.5 1451.7,310.0 1452.7,311.4 1453.7,312.8 1454.7,314.2 1455.7,315.6 1456.7,317.0 1457.7,318.3 1458.7,319.6 1459.7,320.9 1460.7,322.1 1461.7,323.3 1462.7,324.5 1463.7,325.6 1464.7,326.7 1465.7,327.8 1466.7,328.8 1467.7,329.8 1468.7,330.8 1469.7,331.7 1470.7,332.6 1471.7,333.5 1472.7,334.4 1473.7,335.3 1474.7,336.2 1475.7,337.0 1476.7,337.9 1477.7,338.8 1478.7,339.6 1479.7,340.5 1480.7,341.4 1481.7,342.3 1482.7,343.1 1483.7,344.0 1484.7,344.9 1485.7,345.7 1486.7,346.6 1487.7,347.5 1488.7,348.3 1489.7,349.1 1490.7,350.0 1491.7,350.8 1492.7,351.6 1493.7,352.4 1494.7,353.2 1495.7,354.0 1496.7,354.7 1497.7,355.5 1498.7,356.2 1499.7,356.9 1500.7,357.8 1501.7,358.7 1502.7,359.1 1503.7,359.4 1504.7,359.9 1505.7,360.4 1506.7,361.4 1507.7,362.2 1508.7,362.9 1509.7,363.4 1510.7,364.3 1511.7,364.9 1512.7,365.4 1513.7,365.7 1514.7,366.4 1515.7,367.0 1516.7,367.7 1517.7,368.7 1518.7,369.0 1519.7,369.5 1520.7,369.8 1521.7,370.6 1522.7,371.2 1523.7,371.6 1524.7,372.3 1525.7,372.8 1526.7,373.3 1527.7,373.7 1528.7,374.3 1529.7,374.8 1530.7,375.4 1531.7,375.9 1532.7,376.4 1533.7,376.7 1534.7,377.0 1535.7,377.3 1536.7,377.6 1537.7,378.2 1538.7,378.6 1539.7,379.0 1540.7,379.4 1541.7,380.0 1542.7,380.3 1543.7,380.9 1544.7,381.2 1545.7,381.8 1546.7,382.1 1547.7,382.5 1548.7,382.8 1549.7,383.3 1550.7,383.5 1551.7,383.9 1552.7,384.0 1553.7,384.4 1554.7,384.7 1555.7,385.0 1556.7,385.8 1557.7,386.0 1558.7,386.3 1559.7,386.4 1560.7,386.9 1561.7,387.0 1562.7,387.3 1563.7,387.6 1564.7,388.2 1565.7,388.6 1566.7,389.0 1567.7,389.3 1568.7,389.5 1569.7,389.4 1570.7,389.6 1571.7,389.9 1572.7,390.2 1573.7,390.5 1574.7,390.6 1575.7,391.1 1576.7,391.6 1577.7,391.9 1578.7,392.0 1579.7,391.8 1580.7,392.3 1581.7,392.5 1582.7,392.7 1583.7,392.7 1584.7,392.8 1585.7,392.8 1586.7,393.0 1587.7,393.0 1588.7,393.3 1589.7,393.2 1590.7,393.5 1591.7,393.4 1592.7,393.6 1593.7,393.3 1594.7,393.4 1595.7,393.2 1596.7,393.4 1597.7,393.3 1598.7,393.5 1599.7,393.2 1600.7,393.3 1601.7,393.0 1602.7,393.5 1603.7,393.2 1604.7,393.4 1605.7,393.1 1606.7,393.8 1607.7,394.0 1608.7,394.5 1609.7,394.4 1610.7,394.6 1611.7,394.8 1612.7,395.2 1613.7,395.7 1614.7,396.2 1615.7,396.3 1616.7,396.6 1617.7,396.6 1618.7,396.9 1619.7,397.4 1620.7,397.7 1621.7,397.9 1622.7,397.6 1623.7,397.6 1624.7,397.9 1625.7,397.9 1626.7,397.9 1627.7,397.8 1628.7,398.0 1629.7,398.4 1630.7,398.2 1631.7,398.4 1632.7,398.2 1633.7,398.5 1634.7,398.4 1635.7,398.5 1636.7,399.0 1637.7,399.1 1638.7,398.9 1639.7,399.0 1640.7,399.7 1641.7,400.2 1642.7,400.2 1643.7,400.6 1644.7,401.1 1645.7,401.9 1646.7,401.8 1647.7,401.7 1648.7,401.1 1649.7,401.0 1650.7,400.8 1651.7,400.3 1652.7,399.8 1653.7,399.8 1654.7,400.0 1655.7,399.9 1656.7,399.7 1657.7,399.8 1658.7,400.0 1659.7,399.9 1660.7,399.9 1661.7,399.9 1662.7,400.1 1663.7,400.0 1664.7,400.1 1665.7,400.1 1666.7,400.4 1667.7,400.6 1668.7,400.6 1669.7,400.6 1670.7,400.6 1671.7,400.9 1672.7,400.9 1673.7,401.2 1674.7,401.3 1675.7,401.3 1676.7,401.0 1677.7,401.0 1678.7,401.2 1679.7,401.3 1680.7,401.0 1681.7,400.7 1682.7,400.9 1683.7,401.3 1684.7,401.7 1685.7,401.6 1686.7,401.7 1687.7,401.5 1688.7,401.8 1689.7,401.8 1690.7,401.8 1691.7,401.8 1692.7,401.5 1693.7,401.5 1694.7,401.4 1695.7,401.8 1696.7,402.0 1697.7,402.5 1698.7,402.5 1699.7,402.5 1700.7,402.5 1701.7,402.4 1702.7,402.7 1703.7,402.8 1704.7,402.8 1705.7,402.8 1706.7,402.8 1707.7,403.0 1708.7,403.2 1709.7,403.6 1710.7,403.7 1711.7,403.6 1712.7,403.2 1713.7,403.5 1714.7,403.7 1715.7,404.0 1716.7,404.3 1717.7,404.8 1718.7,405.3 1719.7,405.5 1720.7,405.6 1721.7,406.1 1722.7,406.2 1723.7,406.6 1724.7,406.9 1725.7,407.4 1726.7,407.7 1727.7,407.5 1728.7,407.5 1729.7,407.6 1730.7,407.9 1731.7,408.1 1732.7,408.3 1733.7,408.5 1734.7,408.9 1735.7,408.7 1736.7,408.4 1737.7,408.1 1738.7,408.5 1739.7,408.7 1740.7,409.0 1741.7,408.8 1742.7,408.5 1743.7,408.4 1744.7,408.6 1745.7,408.6 1746.7,408.6 1747.7,408.7 1748.7,408.8 1749.7,408.7 1750.7,408.3 1751.7,408.2 1752.7,408.4 1753.7,408.6 1754.7,408.6 1755.7,408.5 1756.7,408.6 1757.7,408.7 1758.7,408.8 1759.7,408.5 1760.7,408.5 1761.7,408.5 1762.7,408.5 1763.7,408.4 1764.7,408.3 1765.7,408.6 1766.7,408.8 1767.7,409.1 1768.7,408.9 1769.7,408.8 1770.7,408.4 1771.7,408.3 1772.7,408.5 1773.7,408.8 1774.7,409.0 1775.7,408.8 1776.7,408.8 1777.7,408.6 1778.7,408.6 1779.7,408.6 1780.7,408.7 1781.7,408.8 1782.7,408.7 1783.7,408.5 1784.7,408.4 1785.7,408.2 1786.7,408.4 1787.7,408.2 1788.7,408.2 1789.7,408.4 1790.7,408.7 1791.7,408.5 1792.7,408.2 1793.7,408.4 1794.7,408.5 1795.7,408.6 1796.7,408.4 1797.7,408.3 1798.7,408.7 1799.7,408.6 1800.7,408.6" fill="none" stroke="#2174ba" stroke-width="1.3" stroke-linejoin="round" stroke-linecap="round"/>
<polyline points="1263.7,407.7 1264.7,407.7 1265.7,407.7 1266.7,407.7 1267.7,407.7 1268.7,407.7 1269.7,407.7 1270.7,407.7 1271.7,407.7 1272.7,407.7 1273.7,407.7 1274.7,407.7 1275.7,407.7 1276.7,407.7 1277.7,407.7 1278.7,407.7 1279.7,407.7 1280.7,407.7 1281.7,407.7 1282.7,407.7 1283.7,407.7 1284.7,407.7 1285.7,407.7 1286.7,407.7 1287.7,407.7 1288.7,407.7 1289.7,407.7 1290.7,407.6 1291.7,407.6 1292.7,407.5 1293.7,407.3 1294.7,407.2 1295.7,406.9 1296.7,406.6 1297.7,406.2 1298.7,405.6 1299.7,404.9 1300.7,403.9 1301.7,402.7 1302.7,401.2 1303.7,399.4 1304.7,397.2 1305.7,394.6 1306.7,391.5 1307.7,388.0 1308.7,384.0 1309.7,379.4 1310.7,374.4 1311.7,369.0 1312.7,363.3 1313.7,357.2 1314.7,350.4 1315.7,342.5 1316.7,333.5 1317.7,323.6 1318.7,312.9 1319.7,301.7 1320.7,290.4 1321.7,279.3 1322.7,268.5 1323.7,257.9 1324.7,247.6 1325.7,237.6 1326.7,228.0 1327.7,218.8 1328.7,210.4 1329.7,202.9 1330.7,196.7 1331.7,192.0 1332.7,188.8 1333.7,187.3 1334.7,187.5 1335.7,189.6 1336.7,193.5 1337.7,199.3 1338.7,206.6 1339.7,215.1 1340.7,224.0 1341.7,233.0 1342.7,241.9 1343.7,251.2 1344.7,261.5 1345.7,273.2 1346.7,285.8 1347.7,298.5 1348.7,310.4 1349.7,320.7 1350.7,329.6 1351.7,337.1 1352.7,343.7 1353.7,349.4 1354.7,354.5 1355.7,359.1 1356.7,363.2 1357.7,367.0 1358.7,370.4 1359.7,373.6 1360.7,376.6 1361.7,379.3 1362.7,381.8 1363.7,384.1 1364.7,386.1 1365.7,387.9 1366.7,389.5 1367.7,390.8 1368.7,392.0 1369.7,393.0 1370.7,393.9 1371.7,394.6 1372.7,395.3 1373.7,395.8 1374.7,396.4 1375.7,396.8 1376.7,397.3 1377.7,397.6 1378.7,398.0 1379.7,398.4 1380.7,398.7 1381.7,399.0 1382.7,399.3 1383.7,399.6 1384.7,399.8 1385.7,400.1 1386.7,400.4 1387.7,400.6 1388.7,400.8 1389.7,401.0 1390.7,400.9 1391.7,401.2 1392.7,401.5 1393.7,401.8 1394.7,402.0 1395.7,401.9 1396.7,401.8 1397.7,402.0 1398.7,402.3 1399.7,402.6 1400.7,402.8 1401.7,402.7 1402.7,402.9 1403.7,402.9 1404.7,403.0 1405.7,403.7 1406.7,403.5 1407.7,403.8 1408.7,403.7 1409.7,403.7 1410.7,403.4 1411.7,403.4 1412.7,403.8 1413.7,404.2 1414.7,404.4 1415.7,404.5 1416.7,404.3 1417.7,403.7 1418.7,403.9 1419.7,404.0 1420.7,404.6 1421.7,404.6 1422.7,404.6 1423.7,404.9 1424.7,405.1 1425.7,405.6 1426.7,405.2 1427.7,405.0 1428.7,404.8 1429.7,405.0 1430.7,404.9 1431.7,405.2 1432.7,405.3 1433.7,405.7 1434.7,405.6 1435.7,405.8 1436.7,405.9 1437.7,405.6 1438.7,405.3 1439.7,405.3 1440.7,406.0 1441.7,406.2 1442.7,406.2 1443.7,406.0 1444.7,406.2 1445.7,406.3 1446.7,406.3 1447.7,406.1 1448.7,406.4 1449.7,406.4 1450.7,406.3 1451.7,406.4 1452.7,406.4 1453.7,406.7 1454.7,406.7 1455.7,407.1 1456.7,407.2 1457.7,407.1 1458.7,406.8 1459.7,406.5 1460.7,406.9 1461.7,407.0 1462.7,407.5 1463.7,407.1 1464.7,406.7 1465.7,406.7 1466.7,406.8 1467.7,407.2 1468.7,407.0 1469.7,407.1 1470.7,407.2 1471.7,406.9 1472.7,407.0 1473.7,406.8 1474.7,407.0 1475.7,407.1 1476.7,407.4 1477.7,407.4 1478.7,406.8 1479.7,406.7 1480.7,406.8 1481.7,407.2 1482.7,406.9 1483.7,406.7 1484.7,406.5 1485.7,406.8 1486.7,407.1 1487.7,407.5 1488.7,407.3 1489.7,407.2 1490.7,407.1 1491.7,407.2 1492.7,407.1 1493.7,407.4 1494.7,407.5 1495.7,407.7 1496.7,407.3 1497.7,407.3 1498.7,406.8 1499.7,406.9 1500.7,407.1 1501.7,407.8 1502.7,408.0 1503.7,407.9 1504.7,407.6 1505.7,407.3 1506.7,407.1 1507.7,407.2 1508.7,407.2 1509.7,407.4 1510.7,407.2 1511.7,407.0 1512.7,406.7 1513.7,406.6 1514.7,406.6 1515.7,407.0 1516.7,407.3 1517.7,407.6 1518.7,407.6 1519.7,407.8 1520.7,407.7 1521.7,407.8 1522.7,407.6 1523.7,407.7 1524.7,407.6 1525.7,407.3 1526.7,407.1 1527.7,407.1 1528.7,407.4 1529.7,407.5 1530.7,407.5 1531.7,407.6 1532.7,407.9 1533.7,408.1 1534.7,408.1 1535.7,407.8 1536.7,407.6 1537.7,407.5 1538.7,407.5 1539.7,407.5 1540.7,407.7 1541.7,407.8 1542.7,407.7 1543.7,407.5 1544.7,407.9 1545.7,408.0 1546.7,408.2 1547.7,407.8 1548.7,407.7 1549.7,407.4 1550.7,407.4 1551.7,407.9 1552.7,407.8 1553.7,408.1 1554.7,407.6 1555.7,407.8 1556.7,407.7 1557.7,408.0 1558.7,408.1 1559.7,407.6 1560.7,407.6 1561.7,407.4 1562.7,408.1 1563.7,408.0 1564.7,408.2 1565.7,407.6 1566.7,407.6 1567.7,407.3 1568.7,407.7 1569.7,407.7 1570.7,408.1 1571.7,407.8 1572.7,407.8 1573.7,407.9 1574.7,407.9 1575.7,407.6 1576.7,407.5 1577.7,407.5 1578.7,407.7 1579.7,407.8 1580.7,407.9 1581.7,408.1 1582.7,407.8 1583.7,408.3 1584.7,408.3 1585.7,408.4 1586.7,408.1 1587.7,407.7 1588.7,407.9 1589.7,408.1 1590.7,408.0 1591.7,408.1 1592.7,407.7 1593.7,407.8 1594.7,407.4 1595.7,408.0 1596.7,408.1 1597.7,408.5 1598.7,408.0 1599.7,408.2 1600.7,407.8 1601.7,407.9 1602.7,408.1 1603.7,408.4 1604.7,408.4 1605.7,408.2 1606.7,408.1 1607.7,408.1 1608.7,408.2 1609.7,408.4 1610.7,408.4 1611.7,408.2 1612.7,408.2 1613.7,408.2 1614.7,408.5 1615.7,408.6 1616.7,408.5 1617.7,407.9 1618.7,407.9 1619.7,408.0 1620.7,408.3 1621.7,407.8 1622.7,407.5 1623.7,407.8 1624.7,408.0 1625.7,408.1 1626.7,408.0 1627.7,408.4 1628.7,408.5 1629.7,408.5 1630.7,408.1 1631.7,408.4 1632.7,408.6 1633.7,408.7 1634.7,408.2 1635.7,407.9 1636.7,408.0 1637.7,408.1 1638.7,408.4 1639.7,408.4 1640.7,408.6 1641.7,408.5 1642.7,408.6 1643.7,408.4 1644.7,408.2 1645.7,408.5 1646.7,408.5 1647.7,408.4 1648.7,408.2 1649.7,408.4 1650.7,408.4 1651.7,408.0 1652.7,408.1 1653.7,408.4 1654.7,408.9 1655.7,408.8 1656.7,408.8 1657.7,408.4 1658.7,408.4 1659.7,408.1 1660.7,408.3 1661.7,408.4 1662.7,408.7 1663.7,408.5 1664.7,408.6 1665.7,408.4 1666.7,408.4 1667.7,408.1 1668.7,408.0 1669.7,408.1 1670.7,408.2 1671.7,408.4 1672.7,408.5 1673.7,408.4 1674.7,408.5 1675.7,408.1 1676.7,408.2 1677.7,408.1 1678.7,408.2 1679.7,408.2 1680.7,408.4 1681.7,408.2 1682.7,407.9 1683.7,407.9 1684.7,408.2 1685.7,408.6 1686.7,408.8 1687.7,408.9 1688.7,408.9 1689.7,408.8 1690.7,408.4 1691.7,408.1 1692.7,408.1 1693.7,408.3 1694.7,408.5 1695.7,408.6 1696.7,408.5 1697.7,408.6 1698.7,408.6 1699.7,408.7 1700.7,408.7 1701.7,408.5 1702.7,408.3 1703.7,408.3 1704.7,408.5 1705.7,408.7 1706.7,408.5 1707.7,408.8 1708.7,408.7 1709.7,408.8 1710.7,408.4 1711.7,408.4 1712.7,408.4 1713.7,408.7 1714.7,409.1 1715.7,409.1 1716.7,408.9 1717.7,408.8 1718.7,408.9 1719.7,408.7 1720.7,408.6 1721.7,408.5 1722.7,408.7 1723.7,408.8 1724.7,408.9 1725.7,408.4 1726.7,408.6 1727.7,408.9 1728.7,409.4 1729.7,409.2 1730.7,408.6 1731.7,408.5 1732.7,408.3 1733.7,408.6 1734.7,408.5 1735.7,408.8 1736.7,408.9 1737.7,408.7 1738.7,408.6 1739.7,408.2 1740.7,408.3 1741.7,408.2 1742.7,408.2 1743.7,408.7 1744.7,408.5 1745.7,408.7 1746.7,408.9 1747.7,409.3 1748.7,409.2 1749.7,408.8 1750.7,408.5 1751.7,408.5 1752.7,408.6 1753.7,408.9 1754.7,409.3 1755.7,409.4 1756.7,409.3 1757.7,409.1 1758.7,408.8 1759.7,408.5 1760.7,408.2 1761.7,408.3 1762.7,408.6 1763.7,408.6 1764.7,409.0 1765.7,409.2 1766.7,409.4 1767.7,409.0 1768.7,408.9 1769.7,408.9 1770.7,408.7 1771.7,408.7 1772.7,408.7 1773.7,408.9 1774.7,409.1 1775.7,409.2 1776.7,409.0 1777.7,408.8 1778.7,408.4 1779.7,408.7 1780.7,408.5 1781.7,408.8 1782.7,408.8 1783.7,409.1 1784.7,408.9 1785.7,408.6 1786.7,408.7 1787.7,408.7 1788.7,409.2 1789.7,409.0 1790.7,409.1 1791.7,409.2 1792.7,409.2 1793.7,409.3 1794.7,408.7 1795.7,408.8 1796.7,408.6 1797.7,408.8 1798.7,408.6 1799.7,408.7 1800.7,409.0" fill="none" stroke="#ed7d31" stroke-width="1.3" stroke-linejoin="round" stroke-linecap="round"/>
<polyline points="1263.7,409.0 1264.7,409.0 1265.7,409.0 1266.7,409.0 1267.7,409.0 1268.7,409.0 1269.7,409.0 1270.7,409.0 1271.7,409.0 1272.7,408.9 1273.7,408.9 1274.7,408.9 1275.7,408.9 1276.7,408.9 1277.7,408.9 1278.7,408.8 1279.7,408.8 1280.7,408.8 1281.7,408.8 1282.7,408.7 1283.7,408.7 1284.7,408.7 1285.7,408.6 1286.7,408.6 1287.7,408.6 1288.7,408.5 1289.7,408.5 1290.7,408.4 1291.7,408.4 1292.7,408.3 1293.7,408.2 1294.7,408.1 1295.7,407.9 1296.7,407.7 1297.7,407.4 1298.7,407.0 1299.7,406.5 1300.7,405.8 1301.7,404.9 1302.7,403.9 1303.7,402.6 1304.7,401.1 1305.7,399.4 1306.7,397.4 1307.7,395.1 1308.7,392.6 1309.7,389.9 1310.7,386.9 1311.7,383.6 1312.7,380.1 1313.7,376.4 1314.7,372.6 1315.7,368.9 1316.7,365.2 1317.7,361.5 1318.7,357.6 1319.7,353.6 1320.7,349.2 1321.7,344.4 1322.7,339.2 1323.7,333.7 1324.7,327.9 1325.7,321.8 1326.7,315.5 1327.7,309.1 1328.7,302.4 1329.7,295.7 1330.7,288.8 1331.7,281.7 1332.7,274.2 1333.7,266.4 1334.7,258.1 1335.7,249.4 1336.7,240.3 1337.7,230.8 1338.7,220.8 1339.7,210.5 1340.7,199.8 1341.7,188.9 1342.7,178.0 1343.7,167.6 1344.7,157.7 1345.7,148.6 1346.7,140.1 1347.7,132.2 1348.7,124.6 1349.7,117.1 1350.7,109.5 1351.7,101.6 1352.7,93.6 1353.7,85.6 1354.7,77.9 1355.7,70.9 1356.7,64.7 1357.7,59.4 1358.7,55.3 1359.7,52.1 1360.7,49.9 1361.7,48.6 1362.7,48.2 1363.7,48.7 1364.7,50.2 1365.7,52.6 1366.7,56.2 1367.7,60.9 1368.7,67.1 1369.7,74.6 1370.7,83.3 1371.7,92.8 1372.7,102.9 1373.7,113.1 1374.7,123.4 1375.7,133.7 1376.7,144.1 1377.7,154.5 1378.7,165.0 1379.7,175.6 1380.7,186.3 1381.7,196.9 1382.7,207.5 1383.7,218.0 1384.7,228.5 1385.7,238.8 1386.7,249.0 1387.7,259.0 1388.7,268.8 1389.7,278.0 1390.7,286.8 1391.7,295.0 1392.7,302.7 1393.7,309.9 1394.7,316.6 1395.7,322.9 1396.7,328.9 1397.7,334.5 1398.7,339.7 1399.7,344.4 1400.7,348.7 1401.7,352.5 1402.7,355.8 1403.7,358.8 1404.7,361.5 1405.7,363.8 1406.7,365.8 1407.7,367.6 1408.7,369.2 1409.7,370.6 1410.7,372.0 1411.7,373.2 1412.7,374.4 1413.7,375.4 1414.7,376.4 1415.7,377.4 1416.7,378.2 1417.7,379.0 1418.7,379.8 1419.7,380.5 1420.7,381.2 1421.7,381.9 1422.7,382.6 1423.7,383.2 1424.7,383.8 1425.7,384.4 1426.7,384.9 1427.7,385.4 1428.7,386.0 1429.7,386.4 1430.7,386.9 1431.7,387.4 1432.7,387.8 1433.7,388.3 1434.7,388.7 1435.7,389.1 1436.7,389.5 1437.7,389.9 1438.7,390.3 1439.7,390.7 1440.7,391.0 1441.7,391.4 1442.7,391.7 1443.7,392.1 1444.7,392.4 1445.7,392.7 1446.7,393.0 1447.7,393.3 1448.7,393.6 1449.7,393.9 1450.7,394.2 1451.7,394.4 1452.7,394.7 1453.7,394.9 1454.7,395.1 1455.7,395.3 1456.7,395.5 1457.7,395.8 1458.7,396.0 1459.7,396.2 1460.7,396.4 1461.7,396.5 1462.7,396.7 1463.7,396.9 1464.7,397.1 1465.7,397.3 1466.7,397.4 1467.7,397.6 1468.7,397.8 1469.7,397.9 1470.7,398.1 1471.7,398.2 1472.7,398.4 1473.7,398.5 1474.7,398.6 1475.7,398.8 1476.7,398.9 1477.7,399.0 1478.7,399.2 1479.7,399.3 1480.7,399.4 1481.7,399.5 1482.7,399.6 1483.7,399.7 1484.7,399.9 1485.7,400.0 1486.7,400.1 1487.7,400.2 1488.7,400.3 1489.7,400.4 1490.7,400.5 1491.7,400.5 1492.7,400.6 1493.7,400.7 1494.7,400.8 1495.7,400.9 1496.7,401.0 1497.7,401.1 1498.7,401.2 1499.7,401.2 1500.7,401.3 1501.7,401.4 1502.7,401.5 1503.7,401.6 1504.7,401.7 1505.7,401.7 1506.7,401.8 1507.7,401.9 1508.7,402.0 1509.7,402.1 1510.7,402.1 1511.7,402.2 1512.7,402.3 1513.7,402.4 1514.7,402.4 1515.7,402.5 1516.7,402.6 1517.7,402.7 1518.7,402.7 1519.7,402.8 1520.7,402.9 1521.7,402.9 1522.7,403.0 1523.7,403.1 1524.7,403.1 1525.7,403.2 1526.7,403.3 1527.7,403.3 1528.7,403.4 1529.7,403.4 1530.7,403.5 1531.7,403.5 1532.7,403.6 1533.7,403.6 1534.7,403.7 1535.7,403.7 1536.7,403.8 1537.7,403.8 1538.7,403.9 1539.7,403.9 1540.7,404.0 1541.7,404.0 1542.7,404.1 1543.7,404.1 1544.7,404.2 1545.7,404.2 1546.7,404.3 1547.7,404.3 1548.7,404.3 1549.7,404.4 1550.7,404.4 1551.7,404.5 1552.7,404.5 1553.7,404.6 1554.7,404.6 1555.7,404.7 1556.7,404.7 1557.7,404.7 1558.7,404.8 1559.7,404.8 1560.7,404.9 1561.7,404.9 1562.7,404.9 1563.7,405.0 1564.7,405.0 1565.7,405.0 1566.7,405.1 1567.7,405.1 1568.7,405.1 1569.7,405.2 1570.7,405.2 1571.7,405.2 1572.7,405.3 1573.7,405.3 1574.7,405.3 1575.7,405.4 1576.7,405.4 1577.7,405.4 1578.7,405.4 1579.7,405.5 1580.7,405.5 1581.7,405.5 1582.7,405.5 1583.7,405.5 1584.7,405.5 1585.7,405.6 1586.7,405.6 1587.7,405.6 1588.7,405.6 1589.7,405.6 1590.7,405.6 1591.7,405.6 1592.7,405.7 1593.7,405.7 1594.7,405.7 1595.7,405.7 1596.7,405.7 1597.7,405.7 1598.7,405.7 1599.7,405.7 1600.7,405.7 1601.7,405.7 1602.7,405.7 1603.7,405.8 1604.7,405.8 1605.7,405.8 1606.7,405.8 1607.7,405.8 1608.7,405.8 1609.7,405.8 1610.7,405.8 1611.7,405.8 1612.7,405.8 1613.7,405.8 1614.7,405.8 1615.7,405.8 1616.7,405.8 1617.7,405.8 1618.7,405.9 1619.7,405.9 1620.7,405.9 1621.7,405.9 1622.7,405.9 1623.7,405.9 1624.7,405.9 1625.7,405.9 1626.7,405.9 1627.7,405.9 1628.7,405.9 1629.7,405.9 1630.7,405.9 1631.7,405.9 1632.7,405.9 1633.7,406.0 1634.7,406.0 1635.7,406.0 1636.7,406.0 1637.7,406.0 1638.7,406.0 1639.7,406.0 1640.7,406.0 1641.7,406.0 1642.7,406.0 1643.7,406.0 1644.7,406.1 1645.7,406.1 1646.7,406.1 1647.7,406.1 1648.7,406.1 1649.7,406.1 1650.7,406.1 1651.7,406.1 1652.7,406.1 1653.7,406.2 1654.7,406.2 1655.7,406.2 1656.7,406.2 1657.7,406.2 1658.7,406.2 1659.7,406.2 1660.7,406.2 1661.7,406.3 1662.7,406.3 1663.7,406.3 1664.7,406.3 1665.7,406.3 1666.7,406.3 1667.7,406.3 1668.7,406.3 1669.7,406.4 1670.7,406.4 1671.7,406.4 1672.7,406.4 1673.7,406.4 1674.7,406.4 1675.7,406.4 1676.7,406.4 1677.7,406.5 1678.7,406.5 1679.7,406.5 1680.7,406.5 1681.7,406.5 1682.7,406.5 1683.7,406.5 1684.7,406.5 1685.7,406.5 1686.7,406.6 1687.7,406.6 1688.7,406.6 1689.7,406.6 1690.7,406.6 1691.7,406.6 1692.7,406.6 1693.7,406.6 1694.7,406.6 1695.7,406.7 1696.7,406.7 1697.7,406.7 1698.7,406.7 1699.7,406.7 1700.7,406.7 1701.7,406.7 1702.7,406.7 1703.7,406.7 1704.7,406.7 1705.7,406.8 1706.7,406.8 1707.7,406.8 1708.7,406.8 1709.7,406.8 1710.7,406.8 1711.7,406.8 1712.7,406.8 1713.7,406.8 1714.7,406.8 1715.7,406.8 1716.7,406.9 1717.7,406.9 1718.7,406.9 1719.7,406.9 1720.7,406.9 1721.7,406.9 1722.7,406.9 1723.7,406.9 1724.7,406.9 1725.7,406.9 1726.7,406.9 1727.7,407.0 1728.7,407.0 1729.7,407.0 1730.7,407.0 1731.7,407.0 1732.7,407.0 1733.7,407.0 1734.7,407.0 1735.7,407.0 1736.7,407.0 1737.7,407.0 1738.7,407.1 1739.7,407.1 1740.7,407.1 1741.7,407.1 1742.7,407.1 1743.7,407.1 1744.7,407.1 1745.7,407.1 1746.7,407.1 1747.7,407.1 1748.7,407.1 1749.7,407.1 1750.7,407.1 1751.7,407.2 1752.7,407.2 1753.7,407.2 1754.7,407.2 1755.7,407.2 1756.7,407.2 1757.7,407.2 1758.7,407.2 1759.7,407.2 1760.7,407.2 1761.7,407.2 1762.7,407.2 1763.7,407.3 1764.7,407.3 1765.7,407.3 1766.7,407.3 1767.7,407.3 1768.7,407.3 1769.7,407.3 1770.7,407.3 1771.7,407.3 1772.7,407.3 1773.7,407.3 1774.7,407.3 1775.7,407.3 1776.7,407.3 1777.7,407.4 1778.7,407.4 1779.7,407.4 1780.7,407.4 1781.7,407.4 1782.7,407.4 1783.7,407.4 1784.7,407.4 1785.7,407.4 1786.7,407.4 1787.7,407.4 1788.7,407.4 1789.7,407.4 1790.7,407.4 1791.7,407.4 1792.7,407.5 1793.7,407.5 1794.7,407.5 1795.7,407.5 1796.7,407.5 1797.7,407.5 1798.7,407.5 1799.7,407.5 1800.7,407.5" fill="none" stroke="#10b050" stroke-width="1.3" stroke-linejoin="round" stroke-linecap="round"/>
</g>
</svg>
</body>
</html>
